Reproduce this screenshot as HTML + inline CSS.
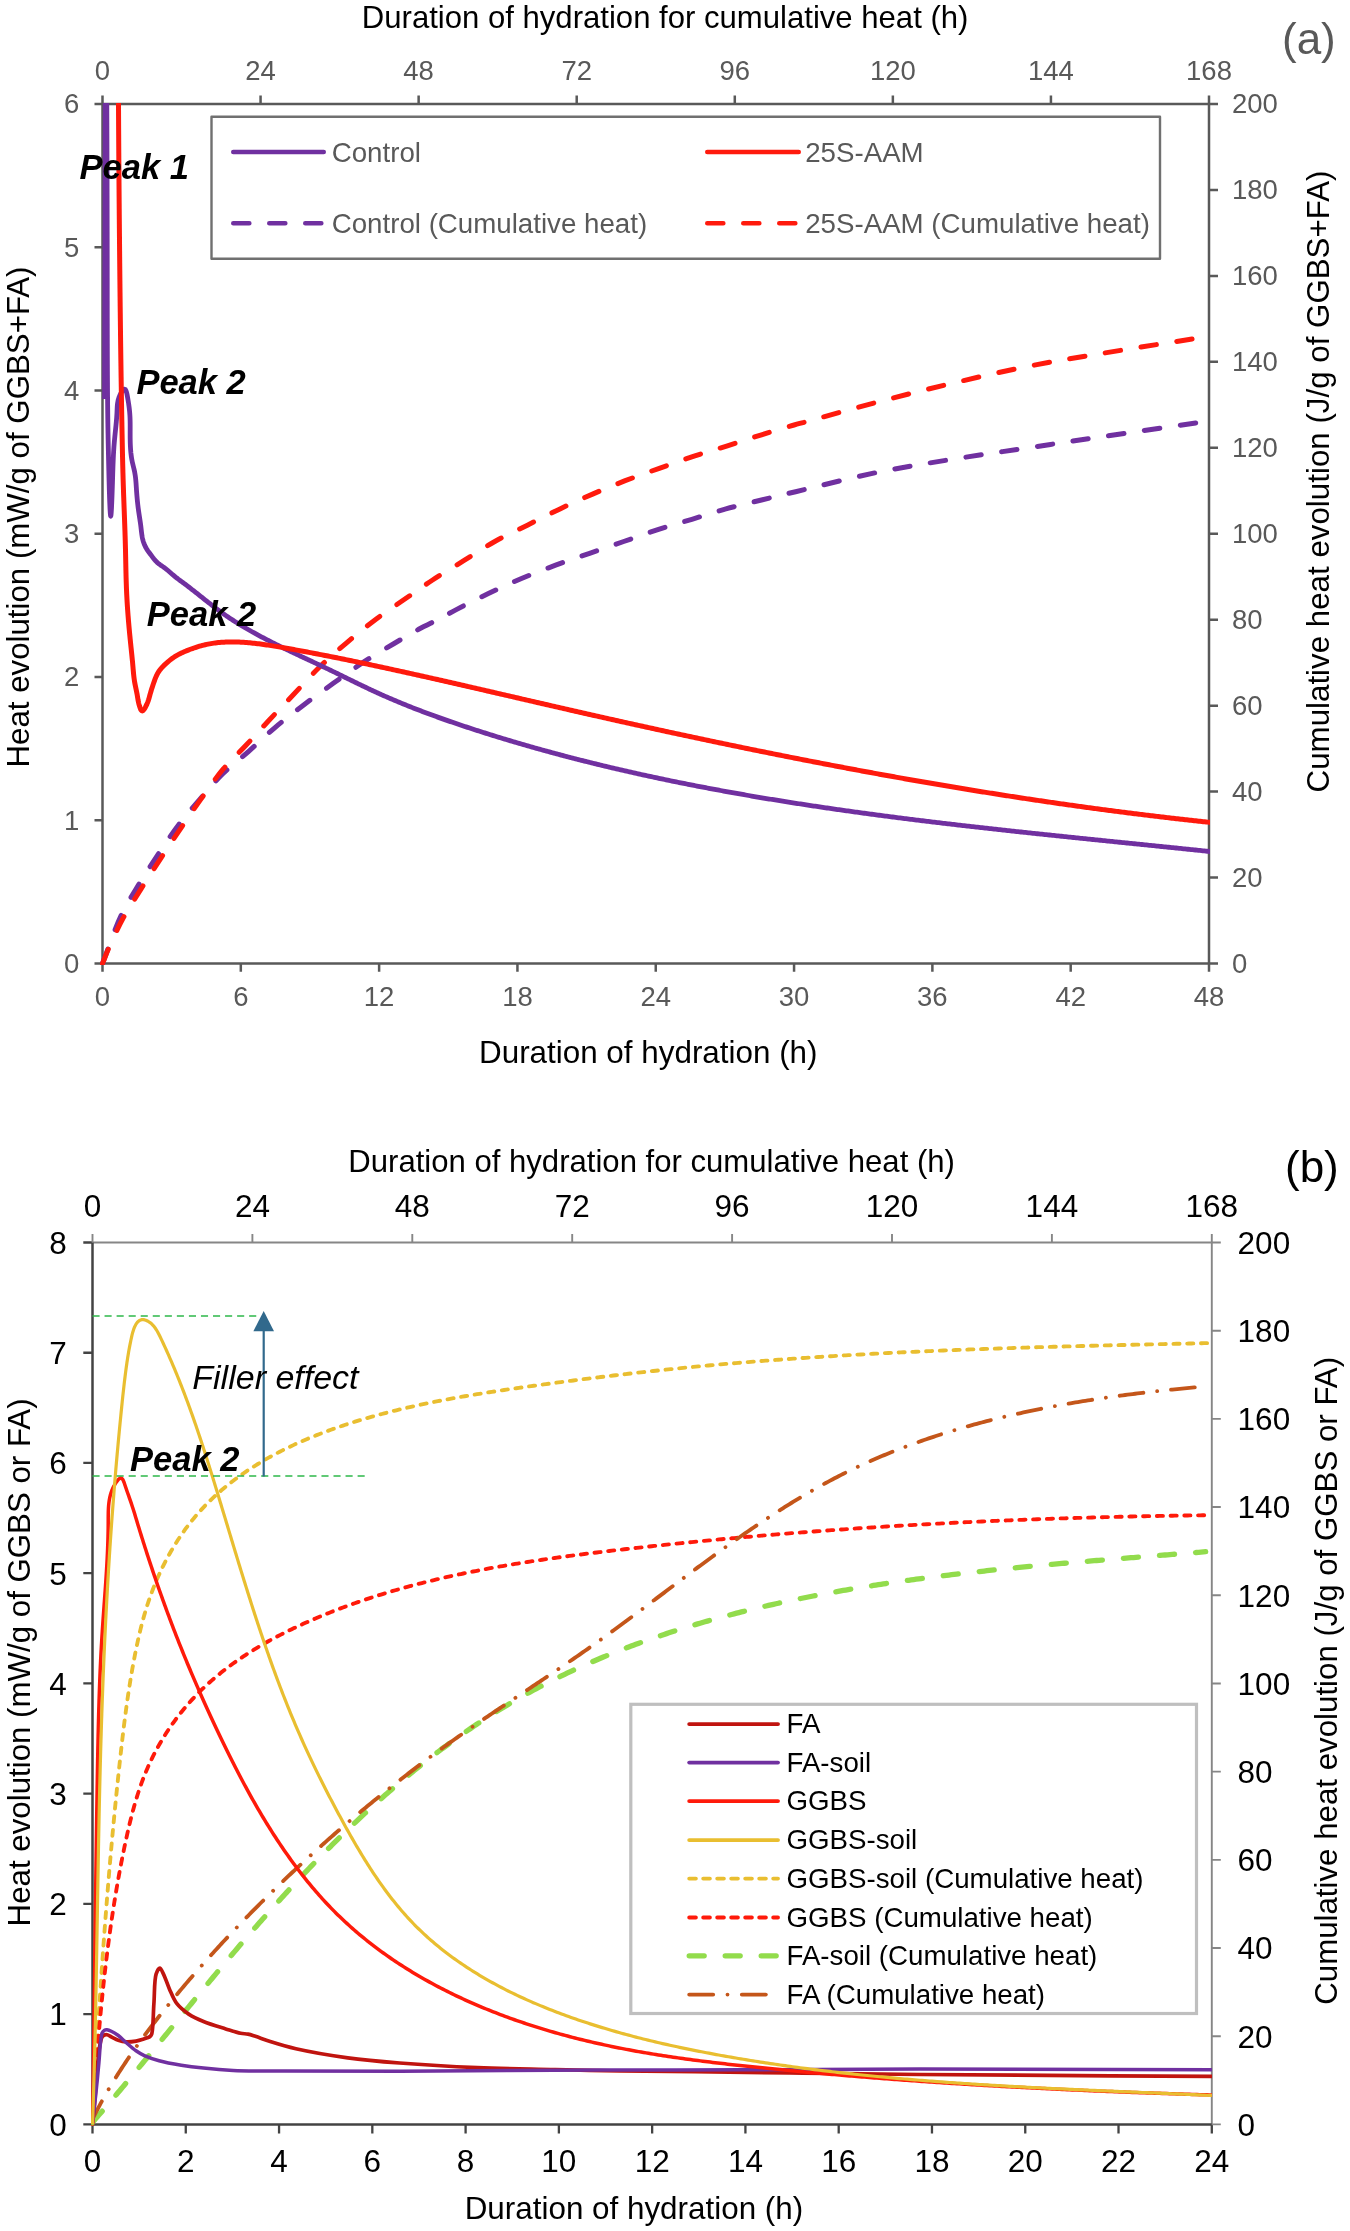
<!DOCTYPE html>
<html><head><meta charset="utf-8"><title>Heat evolution</title>
<style>
html,body{margin:0;padding:0;background:#fff;}
svg{display:block;will-change:transform;}
text{font-family:'Liberation Sans',sans-serif;}
</style></head><body>
<svg width="1350" height="2231" viewBox="0 0 1350 2231">
<rect width="1350" height="2231" fill="#fff"/>
<defs>
<clipPath id="ca"><rect x="100" y="103" width="1110" height="862"/></clipPath>
<clipPath id="cb"><rect x="91" y="1241" width="1122" height="885"/></clipPath>
</defs>

<g stroke="#595959" stroke-width="2.5" fill="none">
<path d="M102.5,104.0 H1209.0 M102.5,963.5 H1209.0 M102.5,104.0 V963.5 M1209.0,104.0 V963.5"/>
<path d="M94.5,963.5 H102.5 M94.5,820.25 H102.5 M94.5,677 H102.5 M94.5,533.75 H102.5 M94.5,390.5 H102.5 M94.5,247.25 H102.5 M94.5,104 H102.5 M1209.0,963.5 H1218 M1209.0,877.55 H1218 M1209.0,791.6 H1218 M1209.0,705.65 H1218 M1209.0,619.7 H1218 M1209.0,533.75 H1218 M1209.0,447.8 H1218 M1209.0,361.85 H1218 M1209.0,275.9 H1218 M1209.0,189.95 H1218 M1209.0,104 H1218 M102.5,963.5 V971.8 M240.81,963.5 V971.8 M379.12,963.5 V971.8 M517.44,963.5 V971.8 M655.75,963.5 V971.8 M794.06,963.5 V971.8 M932.38,963.5 V971.8 M1070.69,963.5 V971.8 M1209,963.5 V971.8 M102.5,104.0 V95.5 M260.57,104.0 V95.5 M418.64,104.0 V95.5 M576.71,104.0 V95.5 M734.79,104.0 V95.5 M892.86,104.0 V95.5 M1050.93,104.0 V95.5 M1209,104.0 V95.5"/>
</g>
<g fill="#595959" font-size="27.5">
<text x="79.2" y="972.8" text-anchor="end">0</text>
<text x="79.2" y="829.55" text-anchor="end">1</text>
<text x="79.2" y="686.3" text-anchor="end">2</text>
<text x="79.2" y="543.05" text-anchor="end">3</text>
<text x="79.2" y="399.8" text-anchor="end">4</text>
<text x="79.2" y="256.55" text-anchor="end">5</text>
<text x="79.2" y="113.3" text-anchor="end">6</text>
<text x="1232" y="972.8">0</text>
<text x="1232" y="886.85">20</text>
<text x="1232" y="800.9">40</text>
<text x="1232" y="714.95">60</text>
<text x="1232" y="629">80</text>
<text x="1232" y="543.05">100</text>
<text x="1232" y="457.1">120</text>
<text x="1232" y="371.15">140</text>
<text x="1232" y="285.2">160</text>
<text x="1232" y="199.25">180</text>
<text x="1232" y="113.3">200</text>
<text x="102.5" y="1006" text-anchor="middle">0</text>
<text x="240.81" y="1006" text-anchor="middle">6</text>
<text x="379.12" y="1006" text-anchor="middle">12</text>
<text x="517.44" y="1006" text-anchor="middle">18</text>
<text x="655.75" y="1006" text-anchor="middle">24</text>
<text x="794.06" y="1006" text-anchor="middle">30</text>
<text x="932.38" y="1006" text-anchor="middle">36</text>
<text x="1070.69" y="1006" text-anchor="middle">42</text>
<text x="1209" y="1006" text-anchor="middle">48</text>
<text x="102.5" y="79.6" text-anchor="middle">0</text>
<text x="260.57" y="79.6" text-anchor="middle">24</text>
<text x="418.64" y="79.6" text-anchor="middle">48</text>
<text x="576.71" y="79.6" text-anchor="middle">72</text>
<text x="734.79" y="79.6" text-anchor="middle">96</text>
<text x="892.86" y="79.6" text-anchor="middle">120</text>
<text x="1050.93" y="79.6" text-anchor="middle">144</text>
<text x="1209" y="79.6" text-anchor="middle">168</text>
</g>
<text x="361.8" y="28.1" font-size="31.1" fill="#000">Duration of hydration for cumulative heat (h)</text>
<text x="479" y="1062.5" font-size="31.4" fill="#000">Duration of hydration (h)</text>
<text transform="translate(28.9,517) rotate(-90)" font-size="31.25" fill="#000" text-anchor="middle">Heat evolution (mW/g of GGBS+FA)</text>
<text transform="translate(1328.6,481.5) rotate(-90)" font-size="31.3" fill="#000" text-anchor="middle">Cumulative heat evolution (J/g of GGBS+FA)</text>
<text x="1282" y="54" font-size="44" fill="#595959">(a)</text>
<rect x="211.5" y="116.7" width="948.5" height="142" fill="#fff" stroke="#707070" stroke-width="2.4" stroke-linejoin="round"/>
<g stroke-width="4.6" stroke-linecap="round" fill="none">
<path d="M233.3,152 H323.7" stroke="#7030A0"/>
<path d="M233.3,223.3 H323.7" stroke="#7030A0" stroke-dasharray="16 20"/>
<path d="M707.3,152 H798.7" stroke="#FF1A0D"/>
<path d="M707.3,223.3 H798.7" stroke="#FF1A0D" stroke-dasharray="16 20"/>
</g>
<g fill="#595959" font-size="27.7">
<text x="331.7" y="161.8">Control</text>
<text x="331.7" y="233">Control (Cumulative heat)</text>
<text x="805.2" y="161.8">25S-AAM</text>
<text x="805.2" y="233">25S-AAM (Cumulative heat)</text>
</g>
<g clip-path="url(#ca)" fill="none" stroke-linejoin="round">
<path d="M102.5,963.5 C108.7,947.53 114.41,929.65 121.1,915.6 C126.69,903.86 132.65,894.71 138.9,884.4 C145.24,873.94 152.15,863.42 158.9,853.3 C165.48,843.43 171.84,833.68 178.9,824.4 C185.91,815.19 193.61,806.41 201.1,797.8 C208.42,789.39 215.4,781.02 223.3,773.3 C231.26,765.51 240.17,758.84 248.7,751.3 C257.5,743.52 266.13,735.03 275.3,727.3 C284.56,719.49 294.32,712.05 304,704.7 C313.65,697.38 323.49,690.32 333.3,683.3 C343.06,676.32 352.7,669.25 362.7,662.7 C372.7,656.15 383.54,649.8 393.3,644 C402.13,638.75 410.55,633.72 418.7,629.3 C426.06,625.31 433.4,621.97 440,618.5 C445.82,615.44 449.9,612.95 456.3,609.6 C465.27,604.91 477.98,598.5 488.9,593.3 C499.72,588.14 510.45,583.16 521.5,578.5 C532.68,573.79 544.2,569.42 555.6,565.2 C566.9,561.02 578.25,557.25 589.6,553.3 C600.95,549.35 612.34,545.45 623.7,541.5 C635.07,537.55 646.39,533.31 657.8,529.6 C669.13,525.91 680.54,522.75 691.9,519.3 C703.24,515.85 714.39,512.1 725.9,508.9 C737.59,505.65 749.76,502.9 761.5,500 C772.98,497.17 781.76,495.02 795.6,491.7 C817.12,486.54 851.26,477.7 878.1,472.2 C903.38,467.02 927.48,463.32 952.2,459.3 C976.88,455.29 1001.6,451.82 1026.3,448.1 C1051,444.38 1073.34,441.02 1100.4,437 C1133.15,432.13 1172.8,426.33 1209,421" stroke="#7030A0" stroke-width="5" stroke-dasharray="15.5 20.6" stroke-linecap="round"/>
<path d="M102.5,963.5 C104.63,958.27 106.23,953.83 108.9,947.8 C112.64,939.36 117.97,927.57 123.3,917.8 C128.69,907.93 134.94,898.68 141.1,888.9 C147.52,878.69 154.39,868.05 161.1,857.8 C167.73,847.68 174.39,837.68 181.1,827.8 C187.72,818.05 194.18,808.57 201.1,798.9 C208.23,788.94 215.55,778.07 223.3,768.9 C230.56,760.31 238.43,753.35 246,745.3 C253.76,737.05 261.39,728.46 269.3,720 C277.38,711.36 285.72,702.73 294,694 C302.39,685.16 310.58,675.8 319.3,667.3 C327.92,658.91 336.89,651.06 346,643.3 C355.12,635.53 364.02,628.21 374,620.7 C384.86,612.53 398.38,603.6 408.9,596.3 C417.55,590.3 424.09,585.56 432.6,580 C442.2,573.73 453.33,567.12 463.7,560.7 C474.06,554.29 484.18,547.42 494.8,541.5 C505.41,535.59 516.53,530.63 527.4,525.2 C538.27,519.77 549.08,514.1 560,508.9 C570.82,503.74 581.69,498.82 592.6,494.1 C603.42,489.42 614.17,484.97 625.2,480.7 C636.39,476.37 647.93,472.36 659.3,468.3 C670.63,464.26 681.93,460.16 693.3,456.4 C704.63,452.66 716.04,449.4 727.4,445.8 C738.78,442.2 750.24,438.31 761.5,434.8 C772.47,431.38 786.37,427.22 794.1,425 C798.35,423.78 799.17,423.62 804,422.3 C817.22,418.68 853.36,408.41 878.1,401.9 C902.76,395.41 927.46,389.17 952.2,383.3 C976.86,377.44 1001.54,371.64 1026.3,366.7 C1050.94,361.78 1074.31,358.07 1100.4,353.7 C1129.53,348.82 1174.87,341.71 1193,338.9 C1200.53,337.73 1203.67,337.3 1209,336.5" stroke="#FF1A0D" stroke-width="5" stroke-dasharray="15.5 20.6" stroke-linecap="round"/>
<path d="M104.6,399 C104.73,349.33 104.89,302.68 105,250 C105.13,190.51 105.2,123.33 105.3,60" stroke="#7030A0" stroke-width="4.8"/>
<path d="M106.6,60 L106.61,61.52 L106.61,63.03 L106.62,64.54 L106.63,66.05 L106.64,67.56 L106.64,69.07 L106.65,70.58 L106.66,72.09 L106.66,73.6 L106.67,75.1 L106.68,76.6 L106.69,78.11 L106.69,79.61 L106.7,81.11 L106.71,82.61 L106.71,84.11 L106.72,85.61 L106.73,87.11 L106.73,88.6 L106.74,90.1 L106.75,91.59 L106.75,93.09 L106.76,94.58 L106.77,96.07 L106.77,97.57 L106.78,99.06 L106.79,100.55 L106.79,102.04 L106.8,103.53 L106.8,105.02 L106.81,106.5 L106.82,107.99 L106.82,109.48 L106.83,110.97 L106.83,112.45 L106.84,113.94 L106.85,115.43 L106.85,116.91 L106.86,118.4 L106.86,119.88 L106.87,121.37 L106.88,122.85 L106.88,124.33 L106.89,125.82 L106.89,127.3 L106.9,128.78 L106.9,130.27 L106.91,131.75 L106.92,133.23 L106.92,134.72 L106.93,136.2 L106.93,137.68 L106.94,139.16 L106.94,140.65 L106.95,142.13 L106.95,143.61 L106.96,145.1 L106.96,146.58 L106.97,148.06 L106.97,149.55 L106.98,151.03 L106.98,152.51 L106.99,154 L106.99,155.48 L107,156.97 L107,158.45 L107.01,159.94 L107.01,161.42 L107.02,162.91 L107.02,164.4 L107.02,165.88 L107.03,167.37 L107.03,168.86 L107.04,170.35 L107.04,171.84 L107.05,173.33 L107.05,174.82 L107.05,176.31 L107.06,177.8 L107.06,179.29 L107.07,180.78 L107.07,182.28 L107.08,183.77 L107.08,185.27 L107.08,186.76 L107.09,188.26 L107.09,189.76 L107.09,191.26 L107.1,192.75 L107.1,194.25 L107.11,195.76 L107.11,197.26 L107.11,198.76 L107.12,200.26 L107.12,201.77 L107.12,203.28 L107.13,204.78 L107.13,206.29 L107.13,207.8 L107.14,209.31 L107.14,210.82 L107.14,212.34 L107.14,213.85 L107.15,215.37 L107.15,216.88 L107.15,218.4 L107.16,219.92 L107.16,221.44 L107.16,222.96 L107.16,224.49 L107.17,226.01 L107.17,227.54 L107.17,229.07 L107.17,230.59 L107.18,232.13 L107.18,233.66 L107.18,235.19 L107.18,236.73 L107.19,238.26 L107.19,239.8 L107.19,241.34 L107.19,242.89 L107.19,244.43 L107.2,245.98 L107.2,247.52 L107.2,249.07 L107.2,250.62 L107.2,252.18 L107.2,253.73 L107.21,255.29 L107.21,256.85 L107.21,258.4 L107.21,259.97 L107.21,261.53 L107.21,263.09 L107.21,264.65 L107.22,266.22 L107.22,267.79 L107.22,269.35 L107.22,270.92 L107.22,272.49 L107.22,274.06 L107.22,275.63 L107.23,277.2 L107.23,278.77 L107.23,280.34 L107.23,281.91 L107.23,283.48 L107.23,285.05 L107.23,286.62 L107.23,288.19 L107.24,289.76 L107.24,291.33 L107.24,292.9 L107.24,294.47 L107.24,296.04 L107.24,297.61 L107.24,299.18 L107.25,300.74 L107.25,302.31 L107.25,303.87 L107.25,305.44 L107.25,307 L107.25,308.56 L107.26,310.12 L107.26,311.68 L107.26,313.23 L107.26,314.79 L107.26,316.34 L107.27,317.89 L107.27,319.44 L107.27,320.99 L107.27,322.54 L107.28,324.08 L107.28,325.62 L107.28,327.16 L107.28,328.7 L107.29,330.23 L107.29,331.76 L107.29,333.29 L107.3,334.82 L107.3,336.34 L107.3,337.86 L107.31,339.38 L107.31,340.89 L107.31,342.4 L107.32,343.91 L107.32,345.42 L107.33,346.92 L107.33,348.41 L107.33,349.91 L107.34,351.4 L107.34,352.89 L107.35,354.37 L107.35,355.85 L107.36,357.32 L107.36,358.79 L107.37,360.26 L107.37,361.72 L107.38,363.18 L107.39,364.64 L107.39,366.08 L107.4,367.53 L107.4,368.97 L107.41,370.4 L107.42,371.83 L107.42,373.26 L107.43,374.68 L107.44,376.1 L107.45,377.51 L107.45,378.91 L107.46,380.31 L107.47,381.7 L107.48,383.09 L107.49,384.47 L107.5,385.85 L107.5,387.22 L107.51,388.59 L107.52,389.95 L107.53,391.3 L107.54,392.65 L107.55,393.99 L107.56,395.32 L107.57,396.65 L107.58,397.97 L107.59,399.29 L107.61,400.6 L107.62,401.9 L107.63,403.2 L107.64,404.49 L107.65,405.78 L107.67,407.07 L107.68,408.35 L107.69,409.64 L107.71,410.92 L107.72,412.21 L107.73,413.5 L107.75,414.79 L107.77,416.09 L107.78,417.39 L107.8,418.7 L107.82,420.01 L107.83,421.34 L107.85,422.67 L107.87,424.01 L107.89,425.37 L107.91,426.73 L107.94,428.11 L107.96,429.5 L107.98,430.91 L108,432.34 L108.03,433.78 L108.06,435.23 L108.08,436.71 L108.11,438.21 L108.14,439.73 L108.17,441.26 L108.2,442.83 L108.23,444.41 L108.26,446.02 L108.3,447.66 L108.33,449.32 L108.37,451.01 L108.4,452.72 L108.44,454.47 L108.48,456.25 L108.52,458.05 L108.56,459.89 L108.61,461.77 L108.65,463.67 L108.7,465.62 L108.74,467.6 L108.79,469.61 L108.84,471.66 L108.89,473.75 L108.94,475.86 L109,477.99 L109.05,480.12 L109.11,482.27 L109.17,484.41 L109.22,486.53 L109.28,488.64 L109.34,490.73 L109.41,492.78 L109.47,494.79 L109.53,496.76 L109.6,498.67 L109.66,500.52 L109.73,502.31 L109.8,504.02 L109.87,505.64 L109.93,507.18 L110,508.61 L110.07,509.95 L110.15,511.17 L110.22,512.27 L110.29,513.25 L110.36,514.1 L110.44,514.8 L110.51,515.36 L110.58,515.76 L110.66,516.01 L110.73,516.08 L110.81,515.98 L110.89,515.69 L110.96,515.24 L111.04,514.62 L111.11,513.85 L111.19,512.94 L111.27,511.89 L111.34,510.71 L111.42,509.42 L111.49,508.01 L111.57,506.51 L111.64,504.93 L111.72,503.26 L111.79,501.51 L111.86,499.71 L111.93,497.86 L112.01,495.96 L112.08,494.02 L112.14,492.06 L112.21,490.09 L112.28,488.1 L112.34,486.12 L112.41,484.15 L112.47,482.2 L112.53,480.28 L112.59,478.4 L112.64,476.57 L112.7,474.78 L112.75,473.04 L112.81,471.35 L112.86,469.69 L112.92,468.07 L112.97,466.48 L113.02,464.92 L113.08,463.4 L113.14,461.9 L113.2,460.42 L113.26,458.97 L113.32,457.54 L113.39,456.12 L113.46,454.71 L113.53,453.32 L113.61,451.93 L113.69,450.55 L113.78,449.17 L113.87,447.79 L113.97,446.41 L114.08,445.03 L114.19,443.63 L114.3,442.23 L114.43,440.81 L114.56,439.38 L114.7,437.93 L114.84,436.46 L114.99,434.99 L115.14,433.5 L115.3,432 L115.45,430.49 L115.61,428.98 L115.76,427.47 L115.92,425.95 L116.06,424.43 L116.21,422.91 L116.35,421.39 L116.48,419.88 L116.6,418.37 L116.71,416.88 L116.81,415.39 L116.9,413.91 L116.98,412.45 L117.04,411 L117.1,409.56 L117.16,408.13 L117.24,406.7 L117.35,405.27 L117.51,403.83 L117.73,402.38 L118.02,400.91 L118.38,399.42 L118.85,397.9 L119.42,396.35 L120.11,394.76 L120.93,393.14 L121.86,391.57 L122.84,390.24 L123.79,389.36 L124.65,389.12 L125.38,389.61 L126,390.7 L126.52,392.23 L126.96,394.06 L127.34,396.02 L127.69,397.95 L128.01,399.8 L128.3,401.56 L128.56,403.25 L128.8,404.86 L129.01,406.41 L129.2,407.9 L129.37,409.35 L129.52,410.75 L129.65,412.13 L129.77,413.48 L129.86,414.81 L129.94,416.14 L130.01,417.46 L130.06,418.8 L130.1,420.14 L130.13,421.51 L130.15,422.9 L130.17,424.31 L130.17,425.73 L130.17,427.17 L130.17,428.63 L130.17,430.1 L130.16,431.59 L130.16,433.08 L130.16,434.59 L130.16,436.11 L130.17,437.63 L130.19,439.16 L130.22,440.7 L130.25,442.24 L130.3,443.79 L130.36,445.33 L130.44,446.88 L130.53,448.43 L130.64,449.97 L130.77,451.51 L130.91,453.05 L131.09,454.58 L131.28,456.11 L131.5,457.62 L131.75,459.13 L132.03,460.63 L132.33,462.11 L132.66,463.59 L133.01,465.05 L133.37,466.51 L133.73,467.97 L134.08,469.42 L134.41,470.88 L134.71,472.34 L134.97,473.81 L135.21,475.29 L135.41,476.77 L135.59,478.26 L135.74,479.75 L135.88,481.25 L136,482.75 L136.11,484.25 L136.21,485.75 L136.31,487.25 L136.41,488.76 L136.5,490.26 L136.61,491.76 L136.72,493.26 L136.84,494.76 L136.96,496.26 L137.09,497.76 L137.23,499.25 L137.37,500.75 L137.53,502.24 L137.69,503.73 L137.86,505.22 L138.04,506.71 L138.22,508.2 L138.42,509.68 L138.62,511.17 L138.84,512.65 L139.06,514.13 L139.29,515.61 L139.52,517.1 L139.75,518.58 L139.97,520.06 L140.2,521.55 L140.41,523.03 L140.61,524.52 L140.8,526.01 L140.98,527.51 L141.15,529 L141.31,530.5 L141.49,531.99 L141.68,533.49 L141.89,534.97 L142.13,536.45 L142.41,537.93 L142.74,539.39 L143.12,540.84 L143.56,542.28 L144.06,543.7 L144.63,545.1 L145.26,546.46 L145.97,547.78 L146.74,549.06 L147.57,550.31 L148.43,551.53 L149.33,552.75 L150.23,553.95 L151.13,555.17 L152.02,556.39 L152.92,557.6 L153.84,558.8 L154.79,559.96 L155.79,561.07 L156.84,562.11 L157.96,563.09 L159.14,564.02 L160.35,564.91 L161.58,565.77 L162.83,566.62 L164.07,567.49 L165.28,568.37 L166.47,569.29 L167.64,570.24 L168.78,571.22 L169.91,572.2 L171.04,573.2 L172.16,574.19 L173.3,575.17 L174.44,576.14 L175.6,577.09 L176.78,578.01 L177.97,578.93 L179.18,579.82 L180.38,580.72 L181.6,581.6 L182.81,582.49 L184.01,583.39 L185.22,584.28 L186.42,585.19 L187.61,586.1 L188.8,587.01 L189.99,587.92 L191.18,588.84 L192.36,589.77 L193.54,590.69 L194.72,591.62 L195.9,592.55 L197.07,593.48 L198.25,594.41 L199.42,595.35 L200.6,596.28 L201.77,597.21 L202.94,598.15 L204.12,599.08 L205.29,600.01 L206.47,600.95 L207.64,601.87 L208.82,602.8 L210,603.73 L211.19,604.65 L212.37,605.57 L213.56,606.48 L214.75,607.39 L215.94,608.3 L217.14,609.2 L218.34,610.1 L219.55,610.99 L220.76,611.87 L221.97,612.75 L223.19,613.63 L224.42,614.49 L225.65,615.35 L226.89,616.2 L228.13,617.05 L229.38,617.89 L230.63,618.72 L231.88,619.55 L233.14,620.37 L234.41,621.18 L235.67,621.99 L236.95,622.79 L238.22,623.58 L239.5,624.37 L240.79,625.16 L242.08,625.94 L243.37,626.71 L244.66,627.48 L245.96,628.24 L247.26,629 L248.56,629.75 L249.87,630.5 L251.18,631.24 L252.49,631.98 L253.8,632.71 L255.12,633.44 L256.44,634.16 L257.76,634.88 L259.08,635.59 L260.41,636.31 L261.73,637.01 L263.06,637.71 L264.39,638.41 L265.72,639.11 L267.05,639.8 L268.38,640.48 L269.72,641.17 L271.05,641.85 L272.39,642.53 L273.73,643.2 L275.07,643.87 L276.41,644.54 L277.75,645.21 L279.1,645.87 L280.44,646.53 L281.79,647.19 L283.13,647.84 L284.48,648.5 L285.83,649.15 L287.17,649.8 L288.52,650.44 L289.87,651.09 L291.22,651.74 L292.58,652.38 L293.93,653.02 L295.28,653.66 L296.63,654.3 L297.99,654.94 L299.34,655.57 L300.69,656.21 L302.05,656.85 L303.4,657.48 L304.76,658.12 L306.11,658.75 L307.47,659.39 L308.82,660.02 L310.18,660.66 L311.53,661.29 L312.89,661.92 L314.24,662.56 L315.6,663.2 L316.95,663.83 L318.31,664.47 L319.66,665.11 L321.02,665.75 L322.37,666.39 L323.72,667.03 L325.07,667.67 L326.43,668.31 L327.78,668.96 L329.13,669.61 L330.48,670.26 L331.83,670.91 L333.18,671.56 L334.53,672.21 L335.87,672.87 L337.22,673.52 L338.57,674.18 L339.92,674.84 L341.26,675.49 L342.61,676.15 L343.96,676.81 L345.31,677.47 L346.65,678.13 L348,678.79 L349.35,679.45 L350.7,680.11 L352.04,680.76 L353.39,681.42 L354.74,682.08 L356.09,682.73 L357.44,683.39 L358.79,684.04 L360.14,684.7 L361.49,685.35 L362.85,686 L364.2,686.64 L365.56,687.29 L366.91,687.94 L368.27,688.58 L369.62,689.22 L370.98,689.85 L372.34,690.49 L373.7,691.12 L375.07,691.75 L376.43,692.38 L377.8,693 L379.16,693.62 L380.53,694.24 L381.9,694.85 L383.27,695.46 L384.64,696.07 L386.02,696.67 L387.39,697.27 L388.77,697.87 L390.15,698.47 L391.53,699.06 L392.91,699.65 L394.29,700.24 L395.67,700.82 L397.06,701.4 L398.44,701.98 L399.83,702.55 L401.22,703.13 L402.61,703.7 L404,704.26 L405.39,704.83 L406.78,705.39 L408.18,705.95 L409.57,706.5 L410.97,707.06 L412.37,707.61 L413.76,708.16 L415.16,708.7 L416.56,709.25 L417.97,709.79 L419.37,710.33 L420.77,710.86 L422.18,711.4 L423.58,711.93 L424.99,712.46 L426.4,712.98 L427.81,713.51 L429.21,714.03 L430.62,714.55 L432.04,715.07 L433.45,715.58 L434.86,716.1 L436.27,716.61 L437.69,717.12 L439.1,717.63 L440.52,718.13 L441.94,718.63 L443.35,719.13 L444.77,719.63 L446.19,720.13 L447.61,720.63 L449.03,721.12 L450.45,721.61 L451.87,722.1 L453.29,722.59 L454.72,723.07 L456.14,723.56 L457.56,724.04 L458.99,724.52 L460.41,725 L461.84,725.48 L463.26,725.95 L464.69,726.43 L466.12,726.9 L467.55,727.37 L468.97,727.84 L470.4,728.31 L471.83,728.77 L473.26,729.24 L474.69,729.7 L476.12,730.16 L477.55,730.62 L478.98,731.08 L480.41,731.54 L481.84,732 L483.27,732.45 L484.7,732.9 L486.14,733.36 L487.57,733.81 L489,734.26 L490.44,734.71 L491.87,735.15 L493.3,735.6 L494.74,736.04 L496.17,736.48 L497.61,736.93 L499.04,737.37 L500.48,737.8 L501.91,738.24 L503.35,738.68 L504.79,739.11 L506.22,739.55 L507.66,739.98 L509.1,740.41 L510.54,740.84 L511.97,741.27 L513.41,741.69 L514.85,742.12 L516.29,742.54 L517.73,742.97 L519.17,743.39 L520.61,743.81 L522.05,744.23 L523.49,744.64 L524.93,745.06 L526.37,745.48 L527.82,745.89 L529.26,746.3 L530.7,746.71 L532.14,747.12 L533.59,747.53 L535.03,747.94 L536.47,748.35 L537.92,748.75 L539.36,749.15 L540.81,749.56 L542.25,749.96 L543.7,750.36 L545.14,750.76 L546.59,751.15 L548.03,751.55 L549.48,751.94 L550.93,752.34 L552.37,752.73 L553.82,753.12 L555.27,753.51 L556.72,753.9 L558.16,754.29 L559.61,754.68 L561.06,755.06 L562.51,755.44 L563.96,755.83 L565.41,756.21 L566.86,756.59 L568.31,756.97 L569.76,757.35 L571.21,757.72 L572.66,758.1 L574.11,758.47 L575.57,758.85 L577.02,759.22 L578.47,759.59 L579.92,759.96 L581.37,760.33 L582.83,760.7 L584.28,761.06 L585.73,761.43 L587.19,761.79 L588.64,762.15 L590.1,762.52 L591.55,762.88 L593.01,763.24 L594.46,763.59 L595.92,763.95 L597.37,764.31 L598.83,764.66 L600.29,765.02 L601.74,765.37 L603.2,765.72 L604.66,766.07 L606.11,766.42 L607.57,766.77 L609.03,767.11 L610.49,767.46 L611.95,767.81 L613.4,768.15 L614.86,768.49 L616.32,768.83 L617.78,769.17 L619.24,769.51 L620.7,769.85 L622.16,770.19 L623.62,770.53 L625.08,770.86 L626.54,771.19 L628.01,771.53 L629.47,771.86 L630.93,772.19 L632.39,772.52 L633.85,772.85 L635.32,773.18 L636.78,773.5 L638.24,773.83 L639.7,774.15 L641.17,774.48 L642.63,774.8 L644.09,775.12 L645.56,775.44 L647.02,775.76 L648.49,776.08 L649.95,776.4 L651.42,776.71 L652.88,777.03 L654.35,777.34 L655.81,777.66 L657.28,777.97 L658.75,778.28 L660.21,778.59 L661.68,778.9 L663.15,779.21 L664.61,779.51 L666.08,779.82 L667.55,780.13 L669.02,780.43 L670.48,780.73 L671.95,781.04 L673.42,781.34 L674.89,781.64 L676.36,781.94 L677.83,782.24 L679.3,782.53 L680.77,782.83 L682.24,783.13 L683.71,783.42 L685.18,783.72 L686.65,784.01 L688.12,784.3 L689.59,784.59 L691.06,784.88 L692.53,785.17 L694,785.46 L695.47,785.75 L696.95,786.03 L698.42,786.32 L699.89,786.6 L701.36,786.89 L702.84,787.17 L704.31,787.45 L705.78,787.73 L707.25,788.01 L708.73,788.29 L710.2,788.57 L711.68,788.85 L713.15,789.12 L714.62,789.4 L716.1,789.67 L717.57,789.95 L719.05,790.22 L720.52,790.49 L722,790.76 L723.47,791.03 L724.95,791.3 L726.42,791.57 L727.9,791.84 L729.38,792.11 L730.85,792.37 L732.33,792.64 L733.81,792.9 L735.28,793.17 L736.76,793.43 L738.24,793.69 L739.71,793.95 L741.19,794.21 L742.67,794.47 L744.15,794.73 L745.63,794.99 L747.1,795.25 L748.58,795.5 L750.06,795.76 L751.54,796.01 L753.02,796.27 L754.5,796.52 L755.98,796.77 L757.46,797.02 L758.94,797.27 L760.42,797.52 L761.9,797.77 L763.38,798.02 L764.86,798.27 L766.34,798.51 L767.82,798.76 L769.3,799.01 L770.78,799.25 L772.26,799.49 L773.74,799.74 L775.22,799.98 L776.7,800.22 L778.18,800.46 L779.67,800.7 L781.15,800.94 L782.63,801.18 L784.11,801.42 L785.59,801.65 L787.08,801.89 L788.56,802.12 L790.04,802.36 L791.53,802.59 L793.01,802.83 L794.49,803.06 L795.98,803.29 L797.46,803.52 L798.94,803.75 L800.43,803.98 L801.91,804.21 L803.39,804.44 L804.88,804.67 L806.36,804.9 L807.85,805.12 L809.33,805.35 L810.82,805.57 L812.3,805.8 L813.79,806.02 L815.27,806.24 L816.76,806.47 L818.24,806.69 L819.73,806.91 L821.21,807.13 L822.7,807.35 L824.18,807.57 L825.67,807.79 L827.16,808 L828.64,808.22 L830.13,808.44 L831.62,808.65 L833.1,808.87 L834.59,809.08 L836.08,809.3 L837.56,809.51 L839.05,809.72 L840.54,809.94 L842.02,810.15 L843.51,810.36 L845,810.57 L846.49,810.78 L847.97,810.99 L849.46,811.2 L850.95,811.4 L852.44,811.61 L853.93,811.82 L855.41,812.02 L856.9,812.23 L858.39,812.43 L859.88,812.64 L861.37,812.84 L862.86,813.05 L864.35,813.25 L865.83,813.45 L867.32,813.65 L868.81,813.85 L870.3,814.05 L871.79,814.25 L873.28,814.45 L874.77,814.65 L876.26,814.85 L877.75,815.05 L879.24,815.25 L880.73,815.44 L882.22,815.64 L883.71,815.83 L885.2,816.03 L886.69,816.22 L888.18,816.42 L889.67,816.61 L891.16,816.8 L892.65,817 L894.14,817.19 L895.63,817.38 L897.12,817.57 L898.61,817.76 L900.1,817.95 L901.59,818.14 L903.08,818.33 L904.58,818.52 L906.07,818.71 L907.56,818.89 L909.05,819.08 L910.54,819.27 L912.03,819.45 L913.52,819.64 L915.01,819.83 L916.51,820.01 L918,820.2 L919.49,820.38 L920.98,820.56 L922.47,820.75 L923.96,820.93 L925.46,821.11 L926.95,821.29 L928.44,821.47 L929.93,821.65 L931.42,821.83 L932.92,822.02 L934.41,822.19 L935.9,822.37 L937.39,822.55 L938.89,822.73 L940.38,822.91 L941.87,823.09 L943.36,823.26 L944.86,823.44 L946.35,823.62 L947.84,823.79 L949.33,823.97 L950.83,824.14 L952.32,824.32 L953.81,824.49 L955.3,824.67 L956.8,824.84 L958.29,825.01 L959.78,825.19 L961.28,825.36 L962.77,825.53 L964.26,825.7 L965.76,825.88 L967.25,826.05 L968.74,826.22 L970.23,826.39 L971.73,826.56 L973.22,826.73 L974.71,826.9 L976.21,827.07 L977.7,827.24 L979.19,827.4 L980.69,827.57 L982.18,827.74 L983.67,827.91 L985.17,828.07 L986.66,828.24 L988.15,828.41 L989.65,828.57 L991.14,828.74 L992.63,828.91 L994.13,829.07 L995.62,829.24 L997.12,829.4 L998.61,829.57 L1000.1,829.73 L1001.6,829.89 L1003.09,830.06 L1004.58,830.22 L1006.08,830.38 L1007.57,830.55 L1009.06,830.71 L1010.56,830.87 L1012.05,831.03 L1013.54,831.2 L1015.04,831.36 L1016.53,831.52 L1018.03,831.68 L1019.52,831.84 L1021.01,832 L1022.51,832.16 L1024,832.32 L1025.49,832.48 L1026.99,832.64 L1028.48,832.8 L1029.97,832.96 L1031.47,833.12 L1032.96,833.28 L1034.45,833.44 L1035.95,833.6 L1037.44,833.75 L1038.93,833.91 L1040.43,834.07 L1041.92,834.23 L1043.41,834.39 L1044.91,834.54 L1046.4,834.7 L1047.89,834.86 L1049.39,835.01 L1050.88,835.17 L1052.37,835.33 L1053.87,835.48 L1055.36,835.64 L1056.85,835.8 L1058.35,835.95 L1059.84,836.11 L1061.33,836.26 L1062.83,836.42 L1064.32,836.57 L1065.81,836.73 L1067.3,836.88 L1068.8,837.04 L1070.29,837.19 L1071.78,837.35 L1073.28,837.5 L1074.77,837.65 L1076.26,837.81 L1077.75,837.96 L1079.25,838.12 L1080.74,838.27 L1082.23,838.42 L1083.72,838.58 L1085.22,838.73 L1086.71,838.88 L1088.2,839.04 L1089.69,839.19 L1091.19,839.34 L1092.68,839.5 L1094.17,839.65 L1095.66,839.8 L1097.16,839.95 L1098.65,840.11 L1100.14,840.26 L1101.63,840.41 L1103.12,840.56 L1104.61,840.72 L1106.11,840.87 L1107.6,841.02 L1109.09,841.17 L1110.58,841.32 L1112.07,841.48 L1113.56,841.63 L1115.06,841.78 L1116.55,841.93 L1118.04,842.08 L1119.53,842.24 L1121.02,842.39 L1122.51,842.54 L1124,842.69 L1125.49,842.84 L1126.98,843 L1128.47,843.15 L1129.97,843.3 L1131.46,843.45 L1132.95,843.6 L1134.44,843.75 L1135.93,843.91 L1137.42,844.06 L1138.91,844.21 L1140.4,844.36 L1141.89,844.51 L1143.38,844.66 L1144.87,844.82 L1146.36,844.97 L1147.85,845.12 L1149.34,845.27 L1150.83,845.42 L1152.32,845.58 L1153.8,845.73 L1155.29,845.88 L1156.78,846.03 L1158.27,846.18 L1159.76,846.34 L1161.25,846.49 L1162.74,846.64 L1164.23,846.79 L1165.72,846.95 L1167.2,847.1 L1168.69,847.25 L1170.18,847.4 L1171.67,847.56 L1173.16,847.71 L1174.65,847.86 L1176.13,848.01 L1177.62,848.17 L1179.11,848.32 L1180.6,848.47 L1182.08,848.63 L1183.57,848.78 L1185.06,848.93 L1186.55,849.09 L1188.03,849.24 L1189.52,849.4 L1191.01,849.55 L1192.49,849.7 L1193.98,849.86 L1195.47,850.01 L1196.95,850.17 L1198.44,850.32 L1199.92,850.48 L1201.41,850.63 L1202.9,850.79 L1204.38,850.94 L1205.87,851.1 L1207.35,851.25 L1208.84,851.41 L1210.32,851.56" stroke="#7030A0" stroke-width="4.8"/>
<path d="M118.3,60 L118.31,61.5 L118.31,63 L118.32,64.5 L118.32,66 L118.33,67.51 L118.34,69.01 L118.34,70.51 L118.35,72.01 L118.36,73.51 L118.36,75.01 L118.37,76.51 L118.37,78.01 L118.38,79.52 L118.39,81.02 L118.39,82.52 L118.4,84.02 L118.41,85.52 L118.42,87.02 L118.42,88.52 L118.43,90.02 L118.44,91.52 L118.44,93.03 L118.45,94.53 L118.46,96.03 L118.47,97.53 L118.47,99.03 L118.48,100.53 L118.49,102.03 L118.5,103.53 L118.51,105.04 L118.51,106.54 L118.52,108.04 L118.53,109.54 L118.54,111.04 L118.55,112.54 L118.55,114.04 L118.56,115.54 L118.57,117.04 L118.58,118.55 L118.59,120.05 L118.6,121.55 L118.6,123.05 L118.61,124.55 L118.62,126.05 L118.63,127.55 L118.64,129.05 L118.65,130.55 L118.66,132.06 L118.67,133.56 L118.68,135.06 L118.69,136.56 L118.7,138.06 L118.7,139.56 L118.71,141.06 L118.72,142.56 L118.73,144.07 L118.74,145.57 L118.75,147.07 L118.76,148.57 L118.77,150.07 L118.78,151.57 L118.79,153.07 L118.8,154.57 L118.81,156.07 L118.82,157.58 L118.83,159.08 L118.84,160.58 L118.85,162.08 L118.86,163.58 L118.88,165.08 L118.89,166.58 L118.9,168.08 L118.91,169.58 L118.92,171.09 L118.93,172.59 L118.94,174.09 L118.95,175.59 L118.96,177.09 L118.97,178.59 L118.99,180.09 L119,181.59 L119.01,183.1 L119.02,184.6 L119.03,186.1 L119.04,187.6 L119.05,189.1 L119.07,190.6 L119.08,192.1 L119.09,193.6 L119.1,195.1 L119.11,196.61 L119.13,198.11 L119.14,199.61 L119.15,201.11 L119.16,202.61 L119.18,204.11 L119.19,205.61 L119.2,207.11 L119.21,208.61 L119.23,210.12 L119.24,211.62 L119.25,213.12 L119.26,214.62 L119.28,216.12 L119.29,217.62 L119.3,219.12 L119.32,220.62 L119.33,222.12 L119.34,223.63 L119.36,225.13 L119.37,226.63 L119.38,228.13 L119.4,229.63 L119.41,231.13 L119.42,232.63 L119.44,234.13 L119.45,235.63 L119.47,237.14 L119.48,238.64 L119.49,240.14 L119.51,241.64 L119.52,243.14 L119.54,244.64 L119.55,246.14 L119.57,247.64 L119.58,249.14 L119.59,250.65 L119.61,252.15 L119.62,253.65 L119.64,255.15 L119.65,256.65 L119.67,258.15 L119.68,259.65 L119.7,261.15 L119.71,262.65 L119.73,264.16 L119.74,265.66 L119.76,267.16 L119.77,268.66 L119.79,270.16 L119.81,271.66 L119.82,273.16 L119.84,274.66 L119.85,276.16 L119.87,277.67 L119.88,279.17 L119.9,280.67 L119.92,282.17 L119.93,283.67 L119.95,285.17 L119.96,286.67 L119.98,288.17 L120,289.67 L120.01,291.18 L120.03,292.68 L120.05,294.18 L120.06,295.68 L120.08,297.18 L120.1,298.68 L120.11,300.18 L120.13,301.68 L120.15,303.18 L120.16,304.69 L120.18,306.19 L120.2,307.69 L120.22,309.19 L120.23,310.69 L120.25,312.19 L120.27,313.69 L120.29,315.19 L120.3,316.69 L120.32,318.2 L120.34,319.7 L120.36,321.2 L120.38,322.7 L120.39,324.2 L120.41,325.7 L120.43,327.2 L120.45,328.7 L120.47,330.2 L120.49,331.71 L120.51,333.21 L120.53,334.71 L120.54,336.21 L120.56,337.71 L120.58,339.21 L120.6,340.71 L120.62,342.21 L120.64,343.71 L120.66,345.21 L120.68,346.72 L120.7,348.22 L120.72,349.72 L120.74,351.22 L120.76,352.72 L120.78,354.22 L120.8,355.72 L120.82,357.22 L120.84,358.72 L120.87,360.23 L120.89,361.73 L120.91,363.23 L120.93,364.73 L120.95,366.23 L120.97,367.73 L120.99,369.23 L121.02,370.73 L121.04,372.23 L121.06,373.73 L121.08,375.24 L121.1,376.74 L121.13,378.24 L121.15,379.74 L121.17,381.24 L121.2,382.74 L121.22,384.24 L121.24,385.74 L121.27,387.24 L121.29,388.74 L121.31,390.25 L121.34,391.75 L121.36,393.25 L121.38,394.75 L121.41,396.25 L121.43,397.75 L121.46,399.25 L121.48,400.75 L121.51,402.25 L121.53,403.75 L121.56,405.26 L121.58,406.76 L121.61,408.26 L121.64,409.76 L121.66,411.26 L121.69,412.76 L121.71,414.26 L121.74,415.76 L121.77,417.26 L121.79,418.76 L121.82,420.27 L121.85,421.77 L121.88,423.27 L121.9,424.77 L121.93,426.27 L121.96,427.77 L121.99,429.27 L122.01,430.77 L122.04,432.27 L122.07,433.77 L122.1,435.27 L122.13,436.78 L122.16,438.28 L122.19,439.78 L122.22,441.28 L122.25,442.78 L122.28,444.28 L122.31,445.78 L122.34,447.28 L122.37,448.78 L122.4,450.28 L122.43,451.78 L122.46,453.29 L122.5,454.79 L122.53,456.29 L122.56,457.79 L122.6,459.29 L122.63,460.79 L122.67,462.29 L122.7,463.79 L122.74,465.29 L122.78,466.79 L122.82,468.29 L122.86,469.79 L122.89,471.29 L122.93,472.8 L122.98,474.3 L123.02,475.8 L123.06,477.3 L123.1,478.8 L123.15,480.3 L123.2,481.8 L123.24,483.3 L123.29,484.8 L123.34,486.3 L123.39,487.8 L123.44,489.3 L123.49,490.8 L123.54,492.3 L123.59,493.8 L123.65,495.3 L123.7,496.8 L123.76,498.3 L123.81,499.8 L123.87,501.3 L123.92,502.8 L123.98,504.3 L124.03,505.8 L124.09,507.3 L124.15,508.8 L124.2,510.3 L124.26,511.8 L124.31,513.3 L124.37,514.8 L124.42,516.3 L124.48,517.8 L124.54,519.3 L124.59,520.8 L124.64,522.3 L124.7,523.8 L124.75,525.3 L124.8,526.8 L124.85,528.3 L124.91,529.81 L124.96,531.31 L125.01,532.81 L125.05,534.31 L125.1,535.81 L125.15,537.31 L125.19,538.81 L125.24,540.31 L125.28,541.81 L125.32,543.31 L125.36,544.81 L125.4,546.31 L125.44,547.81 L125.47,549.31 L125.51,550.81 L125.54,552.31 L125.57,553.82 L125.61,555.32 L125.64,556.82 L125.67,558.32 L125.7,559.82 L125.73,561.32 L125.76,562.82 L125.79,564.32 L125.82,565.82 L125.85,567.32 L125.88,568.83 L125.92,570.33 L125.95,571.83 L125.99,573.33 L126.02,574.83 L126.06,576.33 L126.1,577.83 L126.15,579.33 L126.19,580.83 L126.24,582.33 L126.29,583.83 L126.34,585.33 L126.39,586.83 L126.45,588.33 L126.51,589.83 L126.58,591.33 L126.64,592.83 L126.71,594.33 L126.79,595.83 L126.87,597.33 L126.95,598.83 L127.03,600.33 L127.12,601.83 L127.21,603.32 L127.3,604.82 L127.4,606.32 L127.5,607.82 L127.6,609.32 L127.71,610.81 L127.82,612.31 L127.93,613.81 L128.04,615.31 L128.16,616.8 L128.28,618.3 L128.4,619.8 L128.52,621.29 L128.65,622.79 L128.78,624.28 L128.91,625.78 L129.04,627.27 L129.18,628.77 L129.32,630.26 L129.46,631.76 L129.6,633.25 L129.75,634.75 L129.9,636.24 L130.04,637.73 L130.19,639.22 L130.35,640.72 L130.5,642.21 L130.65,643.7 L130.81,645.2 L130.96,646.69 L131.12,648.19 L131.28,649.68 L131.43,651.18 L131.59,652.67 L131.75,654.17 L131.9,655.66 L132.05,657.16 L132.2,658.65 L132.35,660.14 L132.49,661.64 L132.63,663.13 L132.76,664.62 L132.89,666.11 L133.02,667.6 L133.14,669.09 L133.27,670.57 L133.4,672.06 L133.54,673.55 L133.69,675.04 L133.86,676.53 L134.04,678.03 L134.25,679.52 L134.47,681.02 L134.72,682.53 L135,684.04 L135.3,685.54 L135.61,687.04 L135.93,688.53 L136.24,690.01 L136.55,691.46 L136.84,692.89 L137.1,694.3 L137.33,695.67 L137.55,697.03 L137.78,698.4 L138.01,699.79 L138.29,701.23 L138.61,702.75 L139.01,704.35 L139.49,706.06 L140.07,707.85 L140.75,709.47 L141.53,710.58 L142.41,710.89 L143.37,710.3 L144.36,709.06 L145.31,707.44 L146.18,705.73 L146.92,704.11 L147.55,702.58 L148.09,701.14 L148.55,699.75 L148.96,698.4 L149.34,697.08 L149.7,695.77 L150.06,694.44 L150.45,693.08 L150.85,691.69 L151.28,690.28 L151.72,688.85 L152.18,687.4 L152.66,685.95 L153.14,684.49 L153.65,683.03 L154.16,681.58 L154.67,680.14 L155.21,678.72 L155.77,677.31 L156.37,675.94 L157.01,674.59 L157.71,673.28 L158.48,672.01 L159.32,670.77 L160.22,669.58 L161.17,668.42 L162.17,667.3 L163.21,666.2 L164.28,665.13 L165.38,664.09 L166.5,663.08 L167.64,662.08 L168.78,661.11 L169.95,660.17 L171.13,659.25 L172.33,658.36 L173.55,657.5 L174.8,656.68 L176.07,655.89 L177.37,655.13 L178.68,654.41 L180.02,653.71 L181.37,653.05 L182.73,652.41 L184.11,651.79 L185.5,651.2 L186.89,650.63 L188.29,650.08 L189.7,649.54 L191.1,649.02 L192.51,648.52 L193.91,648.02 L195.32,647.55 L196.72,647.08 L198.13,646.64 L199.54,646.22 L200.95,645.81 L202.37,645.43 L203.8,645.07 L205.23,644.73 L206.66,644.42 L208.1,644.12 L209.54,643.85 L210.99,643.59 L212.44,643.36 L213.9,643.14 L215.36,642.95 L216.83,642.77 L218.3,642.61 L219.77,642.47 L221.25,642.35 L222.73,642.24 L224.21,642.15 L225.7,642.08 L227.19,642.02 L228.68,641.98 L230.18,641.96 L231.68,641.95 L233.18,641.95 L234.68,641.97 L236.19,642 L237.7,642.04 L239.21,642.1 L240.72,642.17 L242.24,642.25 L243.75,642.35 L245.27,642.45 L246.79,642.57 L248.31,642.7 L249.83,642.83 L251.36,642.98 L252.88,643.14 L254.41,643.3 L255.93,643.48 L257.46,643.66 L258.99,643.85 L260.51,644.05 L262.04,644.26 L263.57,644.47 L265.09,644.69 L266.62,644.91 L268.15,645.14 L269.67,645.38 L271.2,645.62 L272.73,645.86 L274.25,646.11 L275.77,646.37 L277.3,646.62 L278.82,646.88 L280.34,647.14 L281.85,647.41 L283.37,647.67 L284.89,647.94 L286.4,648.21 L287.91,648.48 L289.42,648.75 L290.93,649.02 L292.43,649.29 L293.94,649.57 L295.44,649.84 L296.94,650.11 L298.44,650.39 L299.93,650.67 L301.43,650.94 L302.92,651.22 L304.42,651.5 L305.91,651.78 L307.4,652.06 L308.88,652.34 L310.37,652.62 L311.85,652.9 L313.34,653.19 L314.82,653.47 L316.3,653.76 L317.78,654.04 L319.26,654.33 L320.74,654.61 L322.21,654.9 L323.69,655.19 L325.16,655.48 L326.64,655.77 L328.11,656.06 L329.58,656.35 L331.05,656.64 L332.52,656.94 L333.99,657.23 L335.45,657.52 L336.92,657.82 L338.39,658.12 L339.85,658.41 L341.31,658.71 L342.78,659.01 L344.24,659.31 L345.7,659.6 L347.16,659.9 L348.63,660.2 L350.09,660.51 L351.55,660.81 L353.01,661.11 L354.46,661.41 L355.92,661.72 L357.38,662.02 L358.84,662.33 L360.3,662.63 L361.75,662.94 L363.21,663.24 L364.67,663.55 L366.12,663.86 L367.58,664.17 L369.04,664.48 L370.49,664.79 L371.95,665.1 L373.41,665.41 L374.86,665.72 L376.32,666.03 L377.78,666.34 L379.23,666.66 L380.69,666.97 L382.15,667.28 L383.6,667.6 L385.06,667.91 L386.52,668.23 L387.97,668.55 L389.43,668.86 L390.89,669.18 L392.35,669.5 L393.8,669.82 L395.26,670.13 L396.72,670.45 L398.18,670.77 L399.64,671.09 L401.09,671.41 L402.55,671.73 L404.01,672.06 L405.47,672.38 L406.93,672.7 L408.39,673.02 L409.85,673.35 L411.31,673.67 L412.76,673.99 L414.22,674.32 L415.68,674.64 L417.14,674.97 L418.6,675.29 L420.06,675.62 L421.52,675.95 L422.98,676.27 L424.44,676.6 L425.9,676.93 L427.36,677.26 L428.82,677.58 L430.28,677.91 L431.74,678.24 L433.2,678.57 L434.66,678.9 L436.12,679.23 L437.58,679.56 L439.04,679.89 L440.51,680.22 L441.97,680.55 L443.43,680.89 L444.89,681.22 L446.35,681.55 L447.81,681.88 L449.27,682.21 L450.73,682.55 L452.2,682.88 L453.66,683.21 L455.12,683.55 L456.58,683.88 L458.04,684.22 L459.51,684.55 L460.97,684.88 L462.43,685.22 L463.89,685.55 L465.35,685.89 L466.82,686.22 L468.28,686.56 L469.74,686.9 L471.2,687.23 L472.67,687.57 L474.13,687.9 L475.59,688.24 L477.05,688.58 L478.52,688.91 L479.98,689.25 L481.44,689.59 L482.91,689.93 L484.37,690.26 L485.83,690.6 L487.3,690.94 L488.76,691.28 L490.22,691.61 L491.69,691.95 L493.15,692.29 L494.61,692.63 L496.08,692.97 L497.54,693.31 L499.01,693.64 L500.47,693.98 L501.93,694.32 L503.4,694.66 L504.86,695 L506.33,695.34 L507.79,695.67 L509.25,696.01 L510.72,696.35 L512.18,696.69 L513.65,697.03 L515.11,697.37 L516.58,697.71 L518.04,698.05 L519.5,698.39 L520.97,698.72 L522.43,699.06 L523.9,699.4 L525.36,699.74 L526.83,700.08 L528.29,700.42 L529.76,700.76 L531.22,701.09 L532.69,701.43 L534.15,701.77 L535.62,702.11 L537.08,702.45 L538.55,702.79 L540.01,703.12 L541.48,703.46 L542.94,703.8 L544.41,704.14 L545.87,704.48 L547.34,704.81 L548.81,705.15 L550.27,705.49 L551.74,705.83 L553.2,706.16 L554.67,706.5 L556.13,706.84 L557.6,707.17 L559.06,707.51 L560.53,707.85 L562,708.18 L563.46,708.52 L564.93,708.85 L566.39,709.19 L567.86,709.52 L569.32,709.86 L570.79,710.19 L572.26,710.53 L573.72,710.86 L575.19,711.2 L576.65,711.53 L578.12,711.87 L579.59,712.2 L581.05,712.53 L582.52,712.87 L583.98,713.2 L585.45,713.53 L586.92,713.86 L588.38,714.2 L589.85,714.53 L591.31,714.86 L592.78,715.19 L594.25,715.52 L595.71,715.85 L597.18,716.18 L598.64,716.51 L600.11,716.84 L601.58,717.17 L603.04,717.5 L604.51,717.83 L605.98,718.16 L607.44,718.49 L608.91,718.82 L610.37,719.15 L611.84,719.48 L613.31,719.8 L614.77,720.13 L616.24,720.46 L617.71,720.79 L619.17,721.11 L620.64,721.44 L622.11,721.77 L623.57,722.09 L625.04,722.42 L626.51,722.74 L627.97,723.07 L629.44,723.39 L630.91,723.72 L632.37,724.04 L633.84,724.37 L635.31,724.69 L636.78,725.02 L638.24,725.34 L639.71,725.66 L641.18,725.99 L642.64,726.31 L644.11,726.63 L645.58,726.95 L647.04,727.28 L648.51,727.6 L649.98,727.92 L651.45,728.24 L652.91,728.56 L654.38,728.88 L655.85,729.2 L657.32,729.52 L658.78,729.84 L660.25,730.16 L661.72,730.48 L663.19,730.8 L664.65,731.12 L666.12,731.43 L667.59,731.75 L669.06,732.07 L670.52,732.39 L671.99,732.7 L673.46,733.02 L674.93,733.34 L676.39,733.65 L677.86,733.97 L679.33,734.29 L680.8,734.6 L682.27,734.92 L683.73,735.23 L685.2,735.55 L686.67,735.86 L688.14,736.17 L689.61,736.49 L691.08,736.8 L692.54,737.11 L694.01,737.43 L695.48,737.74 L696.95,738.05 L698.42,738.36 L699.89,738.68 L701.35,738.99 L702.82,739.3 L704.29,739.61 L705.76,739.92 L707.23,740.23 L708.7,740.54 L710.17,740.85 L711.64,741.16 L713.1,741.47 L714.57,741.77 L716.04,742.08 L717.51,742.39 L718.98,742.7 L720.45,743 L721.92,743.31 L723.39,743.62 L724.86,743.92 L726.33,744.23 L727.8,744.54 L729.26,744.84 L730.73,745.15 L732.2,745.45 L733.67,745.76 L735.14,746.06 L736.61,746.36 L738.08,746.67 L739.55,746.97 L741.02,747.27 L742.49,747.58 L743.96,747.88 L745.43,748.18 L746.9,748.48 L748.37,748.78 L749.84,749.08 L751.31,749.38 L752.78,749.68 L754.25,749.98 L755.72,750.28 L757.19,750.58 L758.66,750.88 L760.13,751.18 L761.6,751.48 L763.07,751.78 L764.54,752.07 L766.01,752.37 L767.48,752.67 L768.96,752.96 L770.43,753.26 L771.9,753.55 L773.37,753.85 L774.84,754.15 L776.31,754.44 L777.78,754.73 L779.25,755.03 L780.72,755.32 L782.19,755.62 L783.67,755.91 L785.14,756.2 L786.61,756.49 L788.08,756.79 L789.55,757.08 L791.02,757.37 L792.49,757.66 L793.97,757.95 L795.44,758.24 L796.91,758.53 L798.38,758.82 L799.85,759.11 L801.32,759.4 L802.8,759.69 L804.27,759.97 L805.74,760.26 L807.21,760.55 L808.69,760.84 L810.16,761.12 L811.63,761.41 L813.1,761.69 L814.57,761.98 L816.05,762.26 L817.52,762.55 L818.99,762.83 L820.47,763.12 L821.94,763.4 L823.41,763.68 L824.88,763.97 L826.36,764.25 L827.83,764.53 L829.3,764.81 L830.78,765.1 L832.25,765.38 L833.72,765.66 L835.2,765.94 L836.67,766.22 L838.14,766.5 L839.62,766.78 L841.09,767.05 L842.56,767.33 L844.04,767.61 L845.51,767.89 L846.98,768.17 L848.46,768.44 L849.93,768.72 L851.41,769 L852.88,769.27 L854.36,769.55 L855.83,769.82 L857.3,770.1 L858.78,770.37 L860.25,770.64 L861.73,770.92 L863.2,771.19 L864.68,771.46 L866.15,771.73 L867.63,772.01 L869.1,772.28 L870.58,772.55 L872.05,772.82 L873.53,773.09 L875,773.36 L876.48,773.63 L877.95,773.9 L879.43,774.17 L880.9,774.43 L882.38,774.7 L883.85,774.97 L885.33,775.24 L886.81,775.5 L888.28,775.77 L889.76,776.03 L891.23,776.3 L892.71,776.56 L894.18,776.83 L895.66,777.09 L897.14,777.36 L898.61,777.62 L900.09,777.88 L901.57,778.14 L903.04,778.41 L904.52,778.67 L906,778.93 L907.47,779.19 L908.95,779.45 L910.43,779.71 L911.9,779.97 L913.38,780.23 L914.86,780.49 L916.34,780.75 L917.81,781 L919.29,781.26 L920.77,781.52 L922.25,781.77 L923.72,782.03 L925.2,782.29 L926.68,782.54 L928.16,782.8 L929.63,783.05 L931.11,783.3 L932.59,783.56 L934.07,783.81 L935.55,784.06 L937.03,784.32 L938.5,784.57 L939.98,784.82 L941.46,785.07 L942.94,785.32 L944.42,785.57 L945.9,785.82 L947.38,786.07 L948.86,786.32 L950.33,786.57 L951.81,786.81 L953.29,787.06 L954.77,787.31 L956.25,787.55 L957.73,787.8 L959.21,788.05 L960.69,788.29 L962.17,788.54 L963.65,788.78 L965.13,789.02 L966.61,789.27 L968.09,789.51 L969.57,789.75 L971.05,789.99 L972.53,790.24 L974.01,790.48 L975.49,790.72 L976.97,790.96 L978.45,791.2 L979.94,791.44 L981.42,791.68 L982.9,791.91 L984.38,792.15 L985.86,792.39 L987.34,792.63 L988.82,792.86 L990.3,793.1 L991.79,793.33 L993.27,793.57 L994.75,793.8 L996.23,794.04 L997.71,794.27 L999.19,794.5 L1000.68,794.74 L1002.16,794.97 L1003.64,795.2 L1005.12,795.43 L1006.61,795.66 L1008.09,795.89 L1009.57,796.12 L1011.05,796.35 L1012.54,796.58 L1014.02,796.81 L1015.5,797.04 L1016.99,797.27 L1018.47,797.49 L1019.95,797.72 L1021.44,797.95 L1022.92,798.17 L1024.4,798.4 L1025.89,798.62 L1027.37,798.85 L1028.85,799.07 L1030.34,799.29 L1031.82,799.51 L1033.31,799.74 L1034.79,799.96 L1036.28,800.18 L1037.76,800.4 L1039.24,800.62 L1040.73,800.84 L1042.21,801.06 L1043.7,801.28 L1045.18,801.5 L1046.67,801.71 L1048.15,801.93 L1049.64,802.15 L1051.12,802.36 L1052.61,802.58 L1054.1,802.8 L1055.58,803.01 L1057.07,803.22 L1058.55,803.44 L1060.04,803.65 L1061.53,803.86 L1063.01,804.08 L1064.5,804.29 L1065.98,804.5 L1067.47,804.71 L1068.96,804.92 L1070.44,805.13 L1071.93,805.34 L1073.42,805.55 L1074.91,805.76 L1076.39,805.96 L1077.88,806.17 L1079.37,806.38 L1080.85,806.58 L1082.34,806.79 L1083.83,806.99 L1085.32,807.2 L1086.81,807.4 L1088.29,807.61 L1089.78,807.81 L1091.27,808.01 L1092.76,808.21 L1094.25,808.41 L1095.74,808.62 L1097.22,808.82 L1098.71,809.02 L1100.2,809.21 L1101.69,809.41 L1103.18,809.61 L1104.67,809.81 L1106.16,810.01 L1107.65,810.2 L1109.14,810.4 L1110.63,810.59 L1112.12,810.79 L1113.61,810.98 L1115.1,811.18 L1116.59,811.37 L1118.08,811.57 L1119.57,811.76 L1121.06,811.95 L1122.55,812.14 L1124.04,812.33 L1125.53,812.52 L1127.02,812.71 L1128.51,812.9 L1130,813.09 L1131.49,813.28 L1132.98,813.46 L1134.48,813.65 L1135.97,813.84 L1137.46,814.02 L1138.95,814.21 L1140.44,814.39 L1141.93,814.58 L1143.43,814.76 L1144.92,814.95 L1146.41,815.13 L1147.9,815.31 L1149.4,815.49 L1150.89,815.67 L1152.38,815.85 L1153.88,816.03 L1155.37,816.21 L1156.86,816.39 L1158.35,816.57 L1159.85,816.75 L1161.34,816.92 L1162.84,817.1 L1164.33,817.28 L1165.82,817.45 L1167.32,817.63 L1168.81,817.8 L1170.31,817.97 L1171.8,818.15 L1173.29,818.32 L1174.79,818.49 L1176.28,818.66 L1177.78,818.83 L1179.27,819 L1180.77,819.17 L1182.26,819.34 L1183.76,819.51 L1185.26,819.68 L1186.75,819.85 L1188.25,820.01 L1189.74,820.18 L1191.24,820.35 L1192.73,820.51 L1194.23,820.67 L1195.73,820.84 L1197.22,821 L1198.72,821.16 L1200.22,821.33 L1201.71,821.49 L1203.21,821.65 L1204.71,821.81 L1206.21,821.97 L1207.7,822.13 L1209.2,822.29 L1210.7,822.45" stroke="#FF1A0D" stroke-width="5"/>
</g>
<g font-size="34.5" font-weight="bold" font-style="italic" fill="#000">
<text x="79.6" y="178.9">Peak 1</text>
<text x="136.4" y="394">Peak 2</text>
<text x="146.8" y="626">Peak 2</text>
</g>
<path d="M92.5,1242.5 H1211.8" stroke="#868686" stroke-width="2" fill="none"/>
<path d="M1211.8,1242.5 V2124.4" stroke="#868686" stroke-width="1.9" fill="none"/>
<path d="M92.5,1242.5 V2124.4" stroke="#434343" stroke-width="2.5" fill="none"/>
<path d="M92.5,2124.4 H1211.8" stroke="#434343" stroke-width="2.5" fill="none"/>
<path d="M83.3,2124.4 H92.5 M83.3,2014.16 H92.5 M83.3,1903.93 H92.5 M83.3,1793.69 H92.5 M83.3,1683.45 H92.5 M83.3,1573.21 H92.5 M83.3,1462.97 H92.5 M83.3,1352.74 H92.5 M83.3,1242.5 H92.5" stroke="#434343" stroke-width="2.3"/>
<path d="M92.5,2124.4 V2133.4 M185.77,2124.4 V2133.4 M279.05,2124.4 V2133.4 M372.32,2124.4 V2133.4 M465.6,2124.4 V2133.4 M558.88,2124.4 V2133.4 M652.15,2124.4 V2133.4 M745.42,2124.4 V2133.4 M838.7,2124.4 V2133.4 M931.97,2124.4 V2133.4 M1025.25,2124.4 V2133.4 M1118.52,2124.4 V2133.4 M1211.8,2124.4 V2133.4" stroke="#434343" stroke-width="2.3"/>
<path d="M1211.8,2124.4 H1220.8 M1211.8,2036.21 H1220.8 M1211.8,1948.02 H1220.8 M1211.8,1859.83 H1220.8 M1211.8,1771.64 H1220.8 M1211.8,1683.45 H1220.8 M1211.8,1595.26 H1220.8 M1211.8,1507.07 H1220.8 M1211.8,1418.88 H1220.8 M1211.8,1330.69 H1220.8 M1211.8,1242.5 H1220.8" stroke="#868686" stroke-width="1.9"/>
<path d="M92.5,1242.5 V1234 M252.4,1242.5 V1234 M412.3,1242.5 V1234 M572.2,1242.5 V1234 M732.1,1242.5 V1234 M892,1242.5 V1234 M1051.9,1242.5 V1234 M1211.8,1242.5 V1234" stroke="#868686" stroke-width="1.9"/>
<g fill="#000" font-size="31.5">
<text x="66.9" y="2135.7" text-anchor="end">0</text>
<text x="66.9" y="2025.46" text-anchor="end">1</text>
<text x="66.9" y="1915.23" text-anchor="end">2</text>
<text x="66.9" y="1804.99" text-anchor="end">3</text>
<text x="66.9" y="1694.75" text-anchor="end">4</text>
<text x="66.9" y="1584.51" text-anchor="end">5</text>
<text x="66.9" y="1474.27" text-anchor="end">6</text>
<text x="66.9" y="1364.04" text-anchor="end">7</text>
<text x="66.9" y="1253.8" text-anchor="end">8</text>
<text x="1237.6" y="2135.7">0</text>
<text x="1237.6" y="2047.51">20</text>
<text x="1237.6" y="1959.32">40</text>
<text x="1237.6" y="1871.13">60</text>
<text x="1237.6" y="1782.94">80</text>
<text x="1237.6" y="1694.75">100</text>
<text x="1237.6" y="1606.56">120</text>
<text x="1237.6" y="1518.37">140</text>
<text x="1237.6" y="1430.18">160</text>
<text x="1237.6" y="1341.99">180</text>
<text x="1237.6" y="1253.8">200</text>
<text x="92.5" y="2171.6" text-anchor="middle">0</text>
<text x="185.77" y="2171.6" text-anchor="middle">2</text>
<text x="279.05" y="2171.6" text-anchor="middle">4</text>
<text x="372.32" y="2171.6" text-anchor="middle">6</text>
<text x="465.6" y="2171.6" text-anchor="middle">8</text>
<text x="558.88" y="2171.6" text-anchor="middle">10</text>
<text x="652.15" y="2171.6" text-anchor="middle">12</text>
<text x="745.42" y="2171.6" text-anchor="middle">14</text>
<text x="838.7" y="2171.6" text-anchor="middle">16</text>
<text x="931.97" y="2171.6" text-anchor="middle">18</text>
<text x="1025.25" y="2171.6" text-anchor="middle">20</text>
<text x="1118.52" y="2171.6" text-anchor="middle">22</text>
<text x="1211.8" y="2171.6" text-anchor="middle">24</text>
<text x="92.5" y="1216.5" text-anchor="middle">0</text>
<text x="252.4" y="1216.5" text-anchor="middle">24</text>
<text x="412.3" y="1216.5" text-anchor="middle">48</text>
<text x="572.2" y="1216.5" text-anchor="middle">72</text>
<text x="732.1" y="1216.5" text-anchor="middle">96</text>
<text x="892" y="1216.5" text-anchor="middle">120</text>
<text x="1051.9" y="1216.5" text-anchor="middle">144</text>
<text x="1211.8" y="1216.5" text-anchor="middle">168</text>
</g>
<text x="348.3" y="1172.2" font-size="31.1" fill="#000">Duration of hydration for cumulative heat (h)</text>
<text x="464.7" y="2219" font-size="31.4" fill="#000">Duration of hydration (h)</text>
<text transform="translate(29.6,1662.4) rotate(-90)" font-size="31.25" fill="#000" text-anchor="middle">Heat evolution (mW/g of GGBS or FA)</text>
<text transform="translate(1337,1680.9) rotate(-90)" font-size="31.25" fill="#000" text-anchor="middle">Cumulative heat evolution (J/g of GGBS or FA)</text>
<text x="1285" y="1182.2" font-size="44" fill="#000">(b)</text>
<g clip-path="url(#cb)" fill="none" stroke-linejoin="round">
<path d="M92.45,2123.98 L92.59,2121.48 L92.72,2118.98 L92.86,2116.48 L92.99,2113.98 L93.13,2111.48 L93.27,2108.98 L93.4,2106.47 L93.54,2103.97 L93.68,2101.47 L93.82,2098.97 L93.96,2096.47 L94.1,2093.97 L94.24,2091.47 L94.38,2088.96 L94.52,2086.46 L94.66,2083.96 L94.8,2081.46 L94.95,2078.96 L95.09,2076.45 L95.23,2073.95 L95.38,2071.45 L95.52,2068.95 L95.66,2066.45 L95.81,2063.94 L95.96,2061.44 L96.1,2058.94 L96.25,2056.44 L96.4,2053.93 L96.55,2051.43 L96.69,2048.93 L96.84,2046.43 L96.99,2043.93 L97.14,2041.42 L97.3,2038.92 L97.45,2036.42 L97.6,2033.92 L97.75,2031.41 L97.91,2028.91 L98.06,2026.41 L98.22,2023.91 L98.37,2021.4 L98.53,2018.9 L98.69,2016.4 L98.84,2013.9 L99,2011.4 L99.16,2008.89 L99.32,2006.39 L99.48,2003.89 L99.64,2001.39 L99.81,1998.88 L99.97,1996.38 L100.13,1993.88 L100.3,1991.38 L100.46,1988.88 L100.63,1986.37 L100.8,1983.87 L100.96,1981.37 L101.13,1978.87 L101.3,1976.37 L101.47,1973.87 L101.64,1971.36 L101.81,1968.86 L101.99,1966.36 L102.16,1963.86 L102.33,1961.36 L102.51,1958.86 L102.69,1956.36 L102.86,1953.85 L103.04,1951.35 L103.22,1948.85 L103.4,1946.35 L103.58,1943.85 L103.76,1941.35 L103.94,1938.85 L104.13,1936.35 L104.31,1933.85 L104.5,1931.35 L104.68,1928.85 L104.87,1926.35 L105.06,1923.85 L105.25,1921.35 L105.44,1918.85 L105.63,1916.35 L105.82,1913.85 L106.02,1911.35 L106.21,1908.85 L106.41,1906.35 L106.6,1903.85 L106.8,1901.35 L107,1898.85 L107.2,1896.35 L107.4,1893.85 L107.6,1891.35 L107.81,1888.86 L108.01,1886.36 L108.22,1883.86 L108.42,1881.36 L108.63,1878.86 L108.84,1876.36 L109.05,1873.87 L109.26,1871.37 L109.47,1868.87 L109.68,1866.37 L109.9,1863.88 L110.12,1861.38 L110.33,1858.88 L110.55,1856.39 L110.77,1853.89 L110.99,1851.39 L111.21,1848.9 L111.44,1846.4 L111.66,1843.9 L111.89,1841.41 L112.11,1838.91 L112.34,1836.42 L112.57,1833.92 L112.8,1831.43 L113.03,1828.93 L113.27,1826.44 L113.5,1823.94 L113.74,1821.45 L113.98,1818.96 L114.22,1816.46 L114.46,1813.97 L114.7,1811.47 L114.94,1808.98 L115.18,1806.49 L115.43,1803.99 L115.68,1801.5 L115.93,1799.01 L116.17,1796.52 L116.43,1794.02 L116.68,1791.53 L116.93,1789.04 L117.19,1786.55 L117.45,1784.06 L117.7,1781.57 L117.96,1779.08 L118.23,1776.59 L118.49,1774.09 L118.75,1771.6 L119.02,1769.11 L119.29,1766.62 L119.56,1764.14 L119.83,1761.65 L120.1,1759.16 L120.37,1756.67 L120.65,1754.18 L120.92,1751.69 L121.2,1749.2 L121.48,1746.72 L121.77,1744.23 L122.05,1741.74 L122.34,1739.26 L122.63,1736.77 L122.93,1734.28 L123.22,1731.8 L123.53,1729.31 L123.83,1726.83 L124.14,1724.35 L124.45,1721.86 L124.76,1719.38 L125.08,1716.9 L125.41,1714.42 L125.74,1711.94 L126.07,1709.46 L126.41,1706.98 L126.75,1704.5 L127.1,1702.02 L127.45,1699.54 L127.81,1697.07 L128.17,1694.59 L128.54,1692.12 L128.92,1689.64 L129.3,1687.17 L129.69,1684.7 L130.08,1682.23 L130.48,1679.76 L130.89,1677.29 L131.31,1674.82 L131.73,1672.35 L132.16,1669.88 L132.59,1667.42 L133.04,1664.95 L133.49,1662.49 L133.95,1660.03 L134.42,1657.57 L134.89,1655.11 L135.38,1652.65 L135.87,1650.19 L136.37,1647.73 L136.88,1645.28 L137.41,1642.83 L137.94,1640.38 L138.49,1637.93 L139.05,1635.48 L139.62,1633.04 L140.2,1630.6 L140.8,1628.16 L141.41,1625.73 L142.04,1623.3 L142.69,1620.87 L143.35,1618.45 L144.02,1616.03 L144.72,1613.62 L145.43,1611.21 L146.16,1608.8 L146.91,1606.4 L147.68,1604.01 L148.47,1601.62 L149.28,1599.23 L150.11,1596.85 L150.96,1594.48 L151.84,1592.11 L152.73,1589.75 L153.65,1587.4 L154.59,1585.06 L155.54,1582.72 L156.52,1580.39 L157.52,1578.07 L158.54,1575.76 L159.59,1573.45 L160.65,1571.16 L161.73,1568.88 L162.84,1566.61 L163.96,1564.35 L165.11,1562.1 L166.28,1559.86 L167.46,1557.64 L168.67,1555.42 L169.9,1553.23 L171.15,1551.04 L172.42,1548.87 L173.71,1546.71 L175.02,1544.56 L176.35,1542.43 L177.7,1540.32 L179.07,1538.22 L180.47,1536.14 L181.88,1534.07 L183.31,1532.02 L184.77,1529.99 L186.24,1527.97 L187.73,1525.97 L189.25,1524 L190.78,1522.04 L192.33,1520.09 L193.91,1518.17 L195.5,1516.27 L197.12,1514.39 L198.75,1512.52 L200.4,1510.68 L202.08,1508.86 L203.77,1507.06 L205.48,1505.27 L207.21,1503.51 L208.95,1501.76 L210.72,1500.04 L212.5,1498.33 L214.3,1496.64 L216.12,1494.97 L217.96,1493.32 L219.81,1491.69 L221.68,1490.07 L223.56,1488.48 L225.46,1486.9 L227.38,1485.34 L229.31,1483.8 L231.26,1482.27 L233.22,1480.76 L235.2,1479.27 L237.19,1477.8 L239.2,1476.35 L241.22,1474.91 L243.26,1473.49 L245.3,1472.08 L247.37,1470.69 L249.44,1469.32 L251.53,1467.96 L253.63,1466.62 L255.75,1465.3 L257.87,1463.99 L260.01,1462.7 L262.16,1461.42 L264.32,1460.16 L266.49,1458.92 L268.68,1457.69 L270.87,1456.47 L273.08,1455.27 L275.29,1454.09 L277.52,1452.92 L279.75,1451.76 L282,1450.62 L284.25,1449.49 L286.52,1448.38 L288.79,1447.28 L291.07,1446.2 L293.36,1445.13 L295.66,1444.07 L297.96,1443.03 L300.28,1442 L302.6,1440.98 L304.92,1439.97 L307.26,1438.98 L309.6,1438.01 L311.95,1437.04 L314.3,1436.09 L316.66,1435.15 L319.03,1434.22 L321.4,1433.3 L323.77,1432.4 L326.16,1431.51 L328.54,1430.63 L330.93,1429.76 L333.33,1428.91 L335.73,1428.06 L338.13,1427.23 L340.54,1426.41 L342.95,1425.59 L345.36,1424.79 L347.77,1424 L350.19,1423.22 L352.61,1422.46 L355.04,1421.7 L357.46,1420.95 L359.89,1420.21 L362.31,1419.48 L364.74,1418.77 L367.17,1418.06 L369.6,1417.36 L372.03,1416.67 L374.46,1415.99 L376.9,1415.32 L379.33,1414.66 L381.76,1414.01 L384.19,1413.36 L386.63,1412.73 L389.06,1412.1 L391.49,1411.48 L393.93,1410.87 L396.36,1410.27 L398.8,1409.68 L401.23,1409.09 L403.67,1408.51 L406.1,1407.94 L408.54,1407.38 L410.98,1406.83 L413.42,1406.28 L415.85,1405.74 L418.29,1405.2 L420.73,1404.68 L423.17,1404.16 L425.61,1403.65 L428.05,1403.14 L430.5,1402.64 L432.94,1402.15 L435.38,1401.66 L437.82,1401.18 L440.27,1400.7 L442.71,1400.23 L445.16,1399.77 L447.6,1399.31 L450.05,1398.86 L452.5,1398.41 L454.94,1397.97 L457.39,1397.53 L459.84,1397.1 L462.29,1396.67 L464.74,1396.24 L467.19,1395.83 L469.65,1395.41 L472.1,1395 L474.55,1394.6 L477.01,1394.19 L479.46,1393.8 L481.92,1393.4 L484.37,1393.01 L486.83,1392.63 L489.29,1392.24 L491.75,1391.86 L494.21,1391.49 L496.67,1391.11 L499.13,1390.74 L501.59,1390.37 L504.05,1390.01 L506.52,1389.64 L508.98,1389.28 L511.45,1388.93 L513.92,1388.57 L516.38,1388.22 L518.85,1387.86 L521.32,1387.51 L523.79,1387.16 L526.26,1386.82 L528.73,1386.47 L531.21,1386.13 L533.68,1385.78 L536.16,1385.44 L538.63,1385.1 L541.11,1384.76 L543.59,1384.42 L546.07,1384.09 L548.55,1383.75 L551.03,1383.42 L553.51,1383.08 L555.99,1382.75 L558.47,1382.42 L560.96,1382.09 L563.44,1381.77 L565.93,1381.44 L568.41,1381.12 L570.9,1380.79 L573.39,1380.47 L575.87,1380.15 L578.36,1379.83 L580.85,1379.52 L583.34,1379.2 L585.83,1378.89 L588.32,1378.57 L590.81,1378.26 L593.31,1377.95 L595.8,1377.64 L598.29,1377.34 L600.79,1377.03 L603.28,1376.73 L605.77,1376.43 L608.27,1376.13 L610.77,1375.83 L613.26,1375.53 L615.76,1375.23 L618.25,1374.94 L620.75,1374.65 L623.25,1374.36 L625.75,1374.07 L628.24,1373.78 L630.74,1373.49 L633.24,1373.21 L635.74,1372.93 L638.24,1372.65 L640.74,1372.37 L643.24,1372.09 L645.74,1371.82 L648.24,1371.54 L650.74,1371.27 L653.24,1371 L655.74,1370.73 L658.24,1370.46 L660.74,1370.2 L663.24,1369.94 L665.74,1369.67 L668.25,1369.41 L670.75,1369.16 L673.25,1368.9 L675.75,1368.65 L678.25,1368.39 L680.75,1368.14 L683.25,1367.9 L685.75,1367.65 L688.25,1367.41 L690.76,1367.16 L693.26,1366.92 L695.76,1366.68 L698.26,1366.44 L700.76,1366.21 L703.26,1365.98 L705.76,1365.74 L708.26,1365.51 L710.76,1365.28 L713.26,1365.06 L715.76,1364.83 L718.27,1364.61 L720.77,1364.39 L723.27,1364.17 L725.77,1363.95 L728.27,1363.73 L730.77,1363.52 L733.27,1363.31 L735.77,1363.09 L738.27,1362.89 L740.77,1362.68 L743.27,1362.47 L745.77,1362.27 L748.27,1362.06 L750.77,1361.86 L753.28,1361.66 L755.78,1361.46 L758.28,1361.27 L760.78,1361.07 L763.28,1360.88 L765.78,1360.69 L768.28,1360.5 L770.78,1360.31 L773.28,1360.12 L775.78,1359.93 L778.28,1359.75 L780.78,1359.57 L783.28,1359.39 L785.78,1359.21 L788.29,1359.03 L790.79,1358.85 L793.29,1358.68 L795.79,1358.5 L798.29,1358.33 L800.79,1358.16 L803.29,1357.99 L805.79,1357.82 L808.29,1357.66 L810.79,1357.49 L813.29,1357.33 L815.79,1357.16 L818.29,1357 L820.8,1356.84 L823.3,1356.69 L825.8,1356.53 L828.3,1356.37 L830.8,1356.22 L833.3,1356.07 L835.8,1355.91 L838.3,1355.76 L840.8,1355.62 L843.3,1355.47 L845.8,1355.32 L848.31,1355.18 L850.81,1355.03 L853.31,1354.89 L855.81,1354.75 L858.31,1354.61 L860.81,1354.47 L863.31,1354.33 L865.81,1354.2 L868.31,1354.06 L870.82,1353.93 L873.32,1353.79 L875.82,1353.66 L878.32,1353.53 L880.82,1353.4 L883.32,1353.27 L885.82,1353.15 L888.33,1353.02 L890.83,1352.9 L893.33,1352.77 L895.83,1352.65 L898.33,1352.53 L900.83,1352.41 L903.34,1352.29 L905.84,1352.17 L908.34,1352.05 L910.84,1351.94 L913.34,1351.82 L915.84,1351.71 L918.35,1351.6 L920.85,1351.48 L923.35,1351.37 L925.85,1351.26 L928.35,1351.15 L930.86,1351.05 L933.36,1350.94 L935.86,1350.83 L938.36,1350.73 L940.87,1350.62 L943.37,1350.52 L945.87,1350.42 L948.37,1350.32 L950.88,1350.22 L953.38,1350.12 L955.88,1350.02 L958.38,1349.92 L960.89,1349.82 L963.39,1349.73 L965.89,1349.63 L968.4,1349.54 L970.9,1349.44 L973.4,1349.35 L975.9,1349.26 L978.41,1349.17 L980.91,1349.08 L983.41,1348.99 L985.92,1348.9 L988.42,1348.81 L990.92,1348.73 L993.43,1348.64 L995.93,1348.55 L998.44,1348.47 L1000.94,1348.38 L1003.44,1348.3 L1005.95,1348.22 L1008.45,1348.14 L1010.95,1348.06 L1013.46,1347.97 L1015.96,1347.89 L1018.47,1347.82 L1020.97,1347.74 L1023.48,1347.66 L1025.98,1347.58 L1028.48,1347.51 L1030.99,1347.43 L1033.49,1347.35 L1036,1347.28 L1038.5,1347.2 L1041.01,1347.13 L1043.51,1347.06 L1046.02,1346.99 L1048.52,1346.91 L1051.03,1346.84 L1053.53,1346.77 L1056.04,1346.7 L1058.54,1346.63 L1061.05,1346.56 L1063.56,1346.49 L1066.06,1346.43 L1068.57,1346.36 L1071.07,1346.29 L1073.58,1346.22 L1076.08,1346.16 L1078.59,1346.09 L1081.1,1346.03 L1083.6,1345.96 L1086.11,1345.9 L1088.62,1345.83 L1091.12,1345.77 L1093.63,1345.71 L1096.14,1345.64 L1098.64,1345.58 L1101.15,1345.52 L1103.66,1345.46 L1106.16,1345.4 L1108.67,1345.34 L1111.18,1345.27 L1113.68,1345.21 L1116.19,1345.15 L1118.7,1345.09 L1121.21,1345.04 L1123.72,1344.98 L1126.22,1344.92 L1128.73,1344.86 L1131.24,1344.8 L1133.75,1344.74 L1136.26,1344.68 L1138.76,1344.63 L1141.27,1344.57 L1143.78,1344.51 L1146.29,1344.46 L1148.8,1344.4 L1151.31,1344.34 L1153.82,1344.29 L1156.33,1344.23 L1158.83,1344.17 L1161.34,1344.12 L1163.85,1344.06 L1166.36,1344.01 L1168.87,1343.95 L1171.38,1343.9 L1173.89,1343.84 L1176.4,1343.79 L1178.91,1343.73 L1181.42,1343.68 L1183.93,1343.62 L1186.44,1343.57 L1188.95,1343.51 L1191.46,1343.46 L1193.98,1343.41 L1196.49,1343.35 L1199,1343.3 L1201.51,1343.24 L1204.02,1343.19 L1206.53,1343.13 L1209.04,1343.08 L1211.55,1343.03" stroke="#E9BE30" stroke-width="3.85" stroke-dasharray="6.15 7.6" stroke-linecap="round"/>
<path d="M92.48,2124.02 L92.63,2121.51 L92.77,2119 L92.92,2116.5 L93.07,2113.99 L93.22,2111.48 L93.38,2108.98 L93.53,2106.47 L93.68,2103.97 L93.84,2101.46 L94,2098.96 L94.16,2096.45 L94.32,2093.95 L94.49,2091.44 L94.65,2088.94 L94.82,2086.43 L94.99,2083.93 L95.16,2081.43 L95.33,2078.92 L95.5,2076.42 L95.68,2073.92 L95.86,2071.42 L96.04,2068.91 L96.22,2066.41 L96.4,2063.91 L96.59,2061.41 L96.77,2058.91 L96.96,2056.4 L97.16,2053.9 L97.35,2051.4 L97.55,2048.9 L97.75,2046.4 L97.95,2043.9 L98.15,2041.4 L98.36,2038.91 L98.57,2036.41 L98.78,2033.91 L98.99,2031.41 L99.2,2028.91 L99.42,2026.41 L99.64,2023.92 L99.87,2021.42 L100.09,2018.92 L100.32,2016.43 L100.55,2013.93 L100.79,2011.44 L101.03,2008.94 L101.27,2006.45 L101.51,2003.95 L101.75,2001.46 L102,1998.97 L102.25,1996.47 L102.51,1993.98 L102.77,1991.49 L103.03,1988.99 L103.29,1986.5 L103.56,1984.01 L103.83,1981.52 L104.1,1979.03 L104.38,1976.54 L104.66,1974.05 L104.94,1971.56 L105.22,1969.07 L105.51,1966.58 L105.81,1964.1 L106.1,1961.61 L106.4,1959.12 L106.71,1956.64 L107.01,1954.15 L107.33,1951.66 L107.64,1949.18 L107.96,1946.69 L108.28,1944.21 L108.6,1941.73 L108.93,1939.24 L109.27,1936.76 L109.6,1934.28 L109.95,1931.8 L110.29,1929.31 L110.64,1926.83 L110.99,1924.35 L111.35,1921.87 L111.71,1919.39 L112.08,1916.91 L112.45,1914.43 L112.83,1911.96 L113.2,1909.48 L113.59,1907 L113.98,1904.52 L114.37,1902.05 L114.77,1899.57 L115.17,1897.1 L115.58,1894.62 L115.99,1892.15 L116.41,1889.67 L116.83,1887.2 L117.26,1884.73 L117.69,1882.25 L118.13,1879.78 L118.57,1877.31 L119.02,1874.84 L119.48,1872.37 L119.94,1869.9 L120.4,1867.43 L120.87,1864.96 L121.35,1862.49 L121.83,1860.02 L122.31,1857.55 L122.81,1855.08 L123.3,1852.62 L123.81,1850.15 L124.32,1847.68 L124.83,1845.22 L125.36,1842.75 L125.88,1840.29 L126.42,1837.82 L126.96,1835.36 L127.51,1832.9 L128.07,1830.44 L128.63,1827.98 L129.21,1825.53 L129.8,1823.07 L130.39,1820.62 L131,1818.18 L131.62,1815.74 L132.25,1813.3 L132.9,1810.86 L133.56,1808.43 L134.23,1806.01 L134.92,1803.59 L135.63,1801.18 L136.35,1798.77 L137.08,1796.37 L137.84,1793.98 L138.61,1791.6 L139.4,1789.22 L140.21,1786.85 L141.04,1784.48 L141.89,1782.13 L142.76,1779.79 L143.66,1777.45 L144.57,1775.12 L145.51,1772.81 L146.47,1770.5 L147.46,1768.21 L148.46,1765.92 L149.49,1763.65 L150.55,1761.39 L151.62,1759.13 L152.72,1756.89 L153.84,1754.66 L154.98,1752.45 L156.15,1750.24 L157.33,1748.05 L158.54,1745.87 L159.77,1743.7 L161.03,1741.55 L162.3,1739.41 L163.59,1737.28 L164.91,1735.17 L166.25,1733.07 L167.6,1730.98 L168.98,1728.91 L170.38,1726.85 L171.8,1724.8 L173.24,1722.77 L174.7,1720.76 L176.18,1718.76 L177.68,1716.78 L179.19,1714.81 L180.73,1712.86 L182.29,1710.92 L183.87,1709 L185.46,1707.09 L187.08,1705.21 L188.71,1703.33 L190.37,1701.48 L192.04,1699.64 L193.73,1697.82 L195.44,1696.02 L197.16,1694.24 L198.91,1692.47 L200.67,1690.72 L202.45,1688.99 L204.25,1687.28 L206.06,1685.58 L207.89,1683.9 L209.74,1682.24 L211.6,1680.59 L213.48,1678.96 L215.37,1677.35 L217.28,1675.76 L219.21,1674.18 L221.15,1672.61 L223.1,1671.07 L225.07,1669.53 L227.05,1668.02 L229.05,1666.52 L231.06,1665.03 L233.08,1663.56 L235.12,1662.11 L237.17,1660.67 L239.23,1659.25 L241.3,1657.84 L243.39,1656.44 L245.48,1655.06 L247.59,1653.7 L249.71,1652.34 L251.84,1651.01 L253.98,1649.68 L256.13,1648.37 L258.29,1647.08 L260.46,1645.79 L262.64,1644.52 L264.83,1643.27 L267.03,1642.03 L269.24,1640.8 L271.46,1639.58 L273.68,1638.38 L275.91,1637.18 L278.15,1636 L280.4,1634.84 L282.66,1633.68 L284.92,1632.54 L287.18,1631.41 L289.46,1630.29 L291.74,1629.18 L294.03,1628.09 L296.32,1627 L298.62,1625.93 L300.92,1624.87 L303.23,1623.82 L305.54,1622.78 L307.85,1621.75 L310.17,1620.73 L312.5,1619.72 L314.82,1618.72 L317.16,1617.73 L319.49,1616.76 L321.83,1615.79 L324.16,1614.83 L326.51,1613.88 L328.85,1612.94 L331.19,1612.01 L333.54,1611.09 L335.89,1610.18 L338.25,1609.28 L340.6,1608.38 L342.96,1607.5 L345.32,1606.63 L347.68,1605.76 L350.04,1604.9 L352.41,1604.06 L354.78,1603.22 L357.15,1602.39 L359.52,1601.57 L361.9,1600.75 L364.27,1599.95 L366.65,1599.16 L369.03,1598.37 L371.42,1597.59 L373.8,1596.82 L376.19,1596.06 L378.58,1595.3 L380.97,1594.56 L383.36,1593.82 L385.76,1593.09 L388.15,1592.37 L390.55,1591.65 L392.95,1590.94 L395.35,1590.24 L397.76,1589.55 L400.16,1588.87 L402.57,1588.19 L404.98,1587.52 L407.39,1586.86 L409.81,1586.21 L412.22,1585.56 L414.64,1584.92 L417.06,1584.29 L419.48,1583.66 L421.9,1583.04 L424.32,1582.43 L426.75,1581.82 L429.17,1581.22 L431.6,1580.63 L434.03,1580.05 L436.46,1579.47 L438.89,1578.89 L441.33,1578.33 L443.76,1577.77 L446.2,1577.21 L448.64,1576.66 L451.08,1576.12 L453.52,1575.59 L455.96,1575.06 L458.4,1574.53 L460.85,1574.02 L463.3,1573.5 L465.74,1573 L468.19,1572.5 L470.64,1572 L473.1,1571.51 L475.55,1571.03 L478,1570.55 L480.46,1570.07 L482.92,1569.6 L485.37,1569.14 L487.83,1568.68 L490.29,1568.23 L492.75,1567.78 L495.22,1567.34 L497.68,1566.9 L500.14,1566.46 L502.61,1566.03 L505.08,1565.61 L507.54,1565.19 L510.01,1564.77 L512.48,1564.36 L514.95,1563.95 L517.42,1563.55 L519.89,1563.15 L522.37,1562.76 L524.84,1562.37 L527.32,1561.98 L529.79,1561.6 L532.27,1561.22 L534.74,1560.84 L537.22,1560.47 L539.7,1560.1 L542.18,1559.74 L544.66,1559.38 L547.14,1559.02 L549.62,1558.67 L552.11,1558.32 L554.59,1557.97 L557.07,1557.62 L559.56,1557.28 L562.04,1556.94 L564.53,1556.61 L567.01,1556.28 L569.5,1555.95 L571.98,1555.62 L574.47,1555.3 L576.96,1554.98 L579.45,1554.66 L581.94,1554.34 L584.42,1554.03 L586.91,1553.71 L589.4,1553.41 L591.89,1553.1 L594.38,1552.79 L596.88,1552.49 L599.37,1552.19 L601.86,1551.89 L604.35,1551.59 L606.84,1551.3 L609.33,1551 L611.83,1550.71 L614.32,1550.42 L616.81,1550.13 L619.3,1549.84 L621.8,1549.56 L624.29,1549.27 L626.78,1548.99 L629.28,1548.71 L631.77,1548.43 L634.26,1548.15 L636.76,1547.87 L639.25,1547.59 L641.75,1547.32 L644.24,1547.05 L646.73,1546.77 L649.23,1546.5 L651.72,1546.23 L654.22,1545.96 L656.71,1545.7 L659.21,1545.43 L661.7,1545.17 L664.2,1544.9 L666.69,1544.64 L669.19,1544.38 L671.69,1544.12 L674.18,1543.86 L676.68,1543.61 L679.17,1543.35 L681.67,1543.1 L684.16,1542.85 L686.66,1542.59 L689.16,1542.34 L691.65,1542.1 L694.15,1541.85 L696.65,1541.6 L699.14,1541.36 L701.64,1541.11 L704.14,1540.87 L706.64,1540.63 L709.13,1540.39 L711.63,1540.15 L714.13,1539.92 L716.63,1539.68 L719.12,1539.45 L721.62,1539.21 L724.12,1538.98 L726.62,1538.75 L729.12,1538.52 L731.61,1538.29 L734.11,1538.07 L736.61,1537.84 L739.11,1537.62 L741.61,1537.39 L744.11,1537.17 L746.61,1536.95 L749.1,1536.73 L751.6,1536.51 L754.1,1536.3 L756.6,1536.08 L759.1,1535.87 L761.6,1535.65 L764.1,1535.44 L766.6,1535.23 L769.1,1535.02 L771.6,1534.81 L774.1,1534.61 L776.6,1534.4 L779.1,1534.2 L781.6,1533.99 L784.1,1533.79 L786.6,1533.59 L789.1,1533.39 L791.6,1533.19 L794.1,1533 L796.6,1532.8 L799.11,1532.6 L801.61,1532.41 L804.11,1532.22 L806.61,1532.03 L809.11,1531.84 L811.61,1531.65 L814.11,1531.46 L816.61,1531.27 L819.12,1531.09 L821.62,1530.91 L824.12,1530.72 L826.62,1530.54 L829.12,1530.36 L831.63,1530.18 L834.13,1530 L836.63,1529.83 L839.13,1529.65 L841.63,1529.48 L844.14,1529.3 L846.64,1529.13 L849.14,1528.96 L851.64,1528.79 L854.15,1528.62 L856.65,1528.45 L859.15,1528.28 L861.66,1528.12 L864.16,1527.96 L866.66,1527.79 L869.17,1527.63 L871.67,1527.47 L874.17,1527.31 L876.68,1527.15 L879.18,1526.99 L881.68,1526.84 L884.19,1526.68 L886.69,1526.53 L889.19,1526.37 L891.7,1526.22 L894.2,1526.07 L896.71,1525.92 L899.21,1525.77 L901.71,1525.63 L904.22,1525.48 L906.72,1525.33 L909.23,1525.19 L911.73,1525.05 L914.23,1524.91 L916.74,1524.76 L919.24,1524.62 L921.75,1524.49 L924.25,1524.35 L926.76,1524.21 L929.26,1524.08 L931.77,1523.94 L934.27,1523.81 L936.78,1523.68 L939.28,1523.55 L941.79,1523.42 L944.29,1523.29 L946.8,1523.16 L949.3,1523.03 L951.81,1522.91 L954.31,1522.78 L956.82,1522.66 L959.32,1522.53 L961.83,1522.41 L964.33,1522.29 L966.84,1522.17 L969.34,1522.05 L971.85,1521.94 L974.36,1521.82 L976.86,1521.71 L979.37,1521.59 L981.87,1521.48 L984.38,1521.37 L986.88,1521.25 L989.39,1521.14 L991.9,1521.04 L994.4,1520.93 L996.91,1520.82 L999.41,1520.71 L1001.92,1520.61 L1004.43,1520.5 L1006.93,1520.4 L1009.44,1520.3 L1011.95,1520.2 L1014.45,1520.1 L1016.96,1520 L1019.46,1519.9 L1021.97,1519.8 L1024.48,1519.71 L1026.98,1519.61 L1029.49,1519.52 L1032,1519.43 L1034.5,1519.33 L1037.01,1519.24 L1039.52,1519.15 L1042.02,1519.06 L1044.53,1518.98 L1047.04,1518.89 L1049.54,1518.8 L1052.05,1518.72 L1054.56,1518.63 L1057.06,1518.55 L1059.57,1518.47 L1062.08,1518.38 L1064.58,1518.3 L1067.09,1518.22 L1069.6,1518.15 L1072.1,1518.07 L1074.61,1517.99 L1077.12,1517.92 L1079.63,1517.84 L1082.13,1517.77 L1084.64,1517.69 L1087.15,1517.62 L1089.65,1517.55 L1092.16,1517.48 L1094.67,1517.41 L1097.17,1517.34 L1099.68,1517.28 L1102.19,1517.21 L1104.7,1517.14 L1107.2,1517.08 L1109.71,1517.02 L1112.22,1516.95 L1114.72,1516.89 L1117.23,1516.83 L1119.74,1516.77 L1122.25,1516.71 L1124.75,1516.65 L1127.26,1516.6 L1129.77,1516.54 L1132.28,1516.48 L1134.78,1516.43 L1137.29,1516.37 L1139.8,1516.32 L1142.3,1516.27 L1144.81,1516.22 L1147.32,1516.17 L1149.83,1516.12 L1152.33,1516.07 L1154.84,1516.02 L1157.35,1515.98 L1159.86,1515.93 L1162.36,1515.88 L1164.87,1515.84 L1167.38,1515.8 L1169.88,1515.75 L1172.39,1515.71 L1174.9,1515.67 L1177.41,1515.63 L1179.91,1515.59 L1182.42,1515.55 L1184.93,1515.52 L1187.44,1515.48 L1189.94,1515.44 L1192.45,1515.41 L1194.96,1515.38 L1197.46,1515.34 L1199.97,1515.31 L1202.48,1515.28 L1204.99,1515.25" stroke="#FF1A0A" stroke-width="3.85" stroke-dasharray="6.15 7.6" stroke-linecap="round"/>
<path d="M92.31,2122.57 L93.93,2120.72 L95.55,2118.86 L97.17,2117 L98.79,2115.13 L100.4,2113.27 L102.02,2111.4 L103.63,2109.53 L105.24,2107.65 L106.85,2105.78 L108.46,2103.9 L110.06,2102.02 L111.67,2100.13 L113.27,2098.25 L114.87,2096.36 L116.47,2094.47 L118.07,2092.57 L119.67,2090.68 L121.27,2088.78 L122.86,2086.88 L124.46,2084.98 L126.05,2083.08 L127.64,2081.17 L129.23,2079.27 L130.82,2077.36 L132.41,2075.45 L134,2073.54 L135.59,2071.62 L137.18,2069.71 L138.76,2067.79 L140.35,2065.87 L141.93,2063.96 L143.52,2062.03 L145.1,2060.11 L146.69,2058.19 L148.27,2056.26 L149.85,2054.34 L151.43,2052.41 L153.02,2050.48 L154.6,2048.55 L156.18,2046.62 L157.76,2044.69 L159.35,2042.75 L160.93,2040.82 L162.51,2038.89 L164.09,2036.95 L165.67,2035.01 L167.26,2033.08 L168.84,2031.14 L170.42,2029.2 L172.01,2027.26 L173.59,2025.32 L175.17,2023.38 L176.76,2021.44 L178.34,2019.5 L179.93,2017.56 L181.52,2015.62 L183.1,2013.67 L184.69,2011.73 L186.28,2009.79 L187.87,2007.84 L189.46,2005.9 L191.05,2003.96 L192.64,2002.01 L194.24,2000.07 L195.83,1998.13 L197.43,1996.18 L199.02,1994.24 L200.62,1992.3 L202.22,1990.36 L203.82,1988.41 L205.42,1986.47 L207.02,1984.53 L208.63,1982.59 L210.23,1980.65 L211.84,1978.71 L213.45,1976.77 L215.06,1974.83 L216.67,1972.89 L218.29,1970.95 L219.9,1969.01 L221.52,1967.08 L223.14,1965.14 L224.76,1963.21 L226.39,1961.27 L228.01,1959.34 L229.64,1957.41 L231.27,1955.48 L232.9,1953.55 L234.54,1951.62 L236.17,1949.69 L237.81,1947.76 L239.45,1945.84 L241.09,1943.91 L242.74,1941.99 L244.39,1940.07 L246.04,1938.15 L247.69,1936.23 L249.35,1934.31 L251.01,1932.4 L252.67,1930.48 L254.33,1928.57 L256,1926.66 L257.67,1924.75 L259.34,1922.85 L261.01,1920.94 L262.69,1919.04 L264.37,1917.14 L266.05,1915.24 L267.73,1913.34 L269.42,1911.44 L271.11,1909.55 L272.8,1907.66 L274.5,1905.77 L276.2,1903.88 L277.9,1902 L279.6,1900.12 L281.3,1898.24 L283.01,1896.36 L284.73,1894.49 L286.44,1892.62 L288.16,1890.75 L289.88,1888.88 L291.6,1887.01 L293.33,1885.15 L295.05,1883.29 L296.79,1881.44 L298.52,1879.58 L300.26,1877.73 L302,1875.89 L303.74,1874.04 L305.49,1872.2 L307.24,1870.36 L308.99,1868.53 L310.74,1866.7 L312.5,1864.87 L314.26,1863.04 L316.03,1861.22 L317.79,1859.4 L319.56,1857.58 L321.34,1855.77 L323.11,1853.96 L324.89,1852.16 L326.68,1850.36 L328.46,1848.56 L330.25,1846.76 L332.04,1844.97 L333.84,1843.19 L335.64,1841.4 L337.44,1839.62 L339.24,1837.85 L341.05,1836.08 L342.86,1834.31 L344.68,1832.55 L346.49,1830.79 L348.31,1829.03 L350.14,1827.28 L351.97,1825.53 L353.8,1823.79 L355.63,1822.05 L357.47,1820.32 L359.31,1818.59 L361.15,1816.86 L363,1815.14 L364.85,1813.42 L366.71,1811.71 L368.56,1810 L370.42,1808.3 L372.29,1806.6 L374.16,1804.91 L376.03,1803.22 L377.9,1801.54 L379.78,1799.86 L381.66,1798.19 L383.55,1796.52 L385.44,1794.85 L387.33,1793.2 L389.23,1791.54 L391.13,1789.89 L393.03,1788.25 L394.94,1786.61 L396.85,1784.98 L398.76,1783.35 L400.68,1781.73 L402.6,1780.11 L404.53,1778.5 L406.46,1776.9 L408.39,1775.3 L410.33,1773.7 L412.27,1772.11 L414.21,1770.53 L416.16,1768.95 L418.11,1767.38 L420.06,1765.82 L422.02,1764.26 L423.99,1762.7 L425.95,1761.16 L427.92,1759.61 L429.9,1758.08 L431.87,1756.55 L433.86,1755.02 L435.84,1753.51 L437.83,1752 L439.83,1750.49 L441.82,1748.99 L443.82,1747.5 L445.83,1746.02 L447.84,1744.54 L449.85,1743.06 L451.87,1741.6 L453.89,1740.14 L455.92,1738.68 L457.95,1737.24 L459.98,1735.8 L462.02,1734.37 L464.06,1732.94 L466.1,1731.52 L468.15,1730.11 L470.21,1728.7 L472.27,1727.31 L474.33,1725.92 L476.39,1724.53 L478.46,1723.16 L480.54,1721.79 L482.62,1720.42 L484.7,1719.07 L486.79,1717.72 L488.88,1716.38 L490.97,1715.05 L493.07,1713.72 L495.18,1712.4 L497.29,1711.09 L499.4,1709.79 L501.52,1708.5 L503.64,1707.21 L505.76,1705.93 L507.89,1704.66 L510.03,1703.39 L512.17,1702.14 L514.31,1700.89 L516.46,1699.65 L518.61,1698.42 L520.77,1697.19 L522.93,1695.97 L525.09,1694.77 L527.26,1693.56 L529.43,1692.37 L531.61,1691.18 L533.79,1690 L535.98,1688.83 L538.17,1687.67 L540.36,1686.51 L542.56,1685.36 L544.76,1684.22 L546.97,1683.09 L549.18,1681.96 L551.39,1680.84 L553.61,1679.73 L555.83,1678.63 L558.05,1677.53 L560.28,1676.44 L562.51,1675.36 L564.75,1674.28 L566.99,1673.21 L569.23,1672.15 L571.48,1671.1 L573.73,1670.05 L575.99,1669.01 L578.25,1667.97 L580.51,1666.95 L582.78,1665.93 L585.05,1664.92 L587.32,1663.91 L589.59,1662.91 L591.87,1661.92 L594.16,1660.94 L596.44,1659.96 L598.74,1658.99 L601.03,1658.02 L603.33,1657.06 L605.63,1656.11 L607.93,1655.17 L610.24,1654.23 L612.55,1653.3 L614.86,1652.37 L617.18,1651.45 L619.5,1650.54 L621.82,1649.64 L624.15,1648.74 L626.48,1647.84 L628.81,1646.96 L631.14,1646.08 L633.48,1645.2 L635.82,1644.34 L638.17,1643.48 L640.51,1642.62 L642.87,1641.77 L645.22,1640.93 L647.57,1640.09 L649.93,1639.26 L652.3,1638.44 L654.66,1637.62 L657.03,1636.81 L659.4,1636 L661.77,1635.2 L664.15,1634.41 L666.52,1633.62 L668.91,1632.83 L671.29,1632.06 L673.68,1631.29 L676.06,1630.52 L678.46,1629.76 L680.85,1629.01 L683.25,1628.26 L685.64,1627.52 L688.05,1626.78 L690.45,1626.05 L692.86,1625.32 L695.26,1624.6 L697.68,1623.89 L700.09,1623.18 L702.51,1622.48 L704.92,1621.78 L707.34,1621.09 L709.77,1620.4 L712.19,1619.72 L714.62,1619.04 L717.05,1618.37 L719.48,1617.7 L721.91,1617.04 L724.35,1616.39 L726.78,1615.74 L729.22,1615.09 L731.66,1614.45 L734.11,1613.82 L736.55,1613.19 L739,1612.56 L741.45,1611.94 L743.9,1611.33 L746.35,1610.72 L748.81,1610.11 L751.27,1609.51 L753.73,1608.92 L756.19,1608.33 L758.65,1607.74 L761.11,1607.16 L763.58,1606.58 L766.04,1606.01 L768.51,1605.44 L770.98,1604.88 L773.46,1604.32 L775.93,1603.77 L778.4,1603.22 L780.88,1602.68 L783.36,1602.14 L785.84,1601.61 L788.32,1601.07 L790.8,1600.55 L793.29,1600.03 L795.77,1599.51 L798.26,1599 L800.75,1598.49 L803.23,1597.98 L805.73,1597.48 L808.22,1596.99 L810.71,1596.5 L813.2,1596.01 L815.7,1595.53 L818.2,1595.05 L820.69,1594.57 L823.19,1594.1 L825.69,1593.63 L828.19,1593.17 L830.69,1592.71 L833.2,1592.25 L835.7,1591.8 L838.21,1591.35 L840.71,1590.91 L843.22,1590.47 L845.73,1590.04 L848.23,1589.6 L850.74,1589.17 L853.25,1588.75 L855.76,1588.33 L858.28,1587.91 L860.79,1587.5 L863.3,1587.09 L865.81,1586.68 L868.33,1586.27 L870.84,1585.87 L873.36,1585.48 L875.87,1585.09 L878.39,1584.7 L880.91,1584.31 L883.43,1583.93 L885.94,1583.55 L888.46,1583.17 L890.98,1582.8 L893.5,1582.43 L896.02,1582.06 L898.54,1581.7 L901.06,1581.34 L903.58,1580.98 L906.1,1580.62 L908.62,1580.27 L911.15,1579.93 L913.67,1579.58 L916.19,1579.24 L918.71,1578.9 L921.23,1578.56 L923.76,1578.23 L926.28,1577.9 L928.8,1577.57 L931.32,1577.25 L933.85,1576.92 L936.37,1576.6 L938.89,1576.29 L941.41,1575.97 L943.93,1575.66 L946.46,1575.35 L948.98,1575.05 L951.5,1574.74 L954.02,1574.44 L956.54,1574.14 L959.06,1573.85 L961.58,1573.55 L964.11,1573.26 L966.63,1572.97 L969.15,1572.69 L971.66,1572.4 L974.18,1572.12 L976.7,1571.84 L979.22,1571.56 L981.74,1571.29 L984.26,1571.01 L986.77,1570.74 L989.29,1570.47 L991.8,1570.21 L994.32,1569.94 L996.83,1569.68 L999.35,1569.42 L1001.86,1569.16 L1004.37,1568.9 L1006.89,1568.65 L1009.4,1568.4 L1011.91,1568.15 L1014.42,1567.9 L1016.92,1567.65 L1019.43,1567.4 L1021.94,1567.16 L1024.45,1566.92 L1026.95,1566.68 L1029.45,1566.44 L1031.96,1566.2 L1034.46,1565.97 L1036.96,1565.73 L1039.46,1565.5 L1041.96,1565.27 L1044.46,1565.04 L1046.95,1564.81 L1049.45,1564.58 L1051.95,1564.36 L1054.44,1564.14 L1056.93,1563.91 L1059.42,1563.69 L1061.91,1563.47 L1064.4,1563.25 L1066.89,1563.04 L1069.37,1562.82 L1071.86,1562.6 L1074.34,1562.39 L1076.82,1562.18 L1079.3,1561.97 L1081.78,1561.75 L1084.26,1561.54 L1086.73,1561.34 L1089.21,1561.13 L1091.68,1560.92 L1094.15,1560.72 L1096.62,1560.51 L1099.09,1560.31 L1101.55,1560.1 L1104.02,1559.9 L1106.48,1559.7 L1108.94,1559.5 L1111.4,1559.3 L1113.86,1559.1 L1116.31,1558.9 L1118.77,1558.7 L1121.22,1558.5 L1123.67,1558.3 L1126.12,1558.11 L1128.56,1557.91 L1131.01,1557.71 L1133.45,1557.52 L1135.89,1557.32 L1138.33,1557.13 L1140.77,1556.93 L1143.2,1556.74 L1145.63,1556.55 L1148.06,1556.35 L1150.49,1556.16 L1152.91,1555.97 L1155.34,1555.77 L1157.76,1555.58 L1160.18,1555.39 L1162.59,1555.2 L1165.01,1555 L1167.42,1554.81 L1169.83,1554.62 L1172.24,1554.43 L1174.64,1554.23 L1177.04,1554.04 L1179.44,1553.85 L1181.84,1553.66 L1184.24,1553.46 L1186.63,1553.27 L1189.02,1553.08 L1191.4,1552.88 L1193.79,1552.69 L1196.17,1552.49 L1198.55,1552.3 L1200.93,1552.1 L1203.3,1551.91 L1205.67,1551.71" stroke="#92DC4C" stroke-width="5.3" stroke-dasharray="15.1 21.1" stroke-linecap="round"/>
<path d="M90.84,2122.57 L91.93,2120.34 L93.03,2118.1 L94.14,2115.88 L95.27,2113.66 L96.4,2111.45 L97.55,2109.25 L98.71,2107.05 L99.89,2104.86 L101.07,2102.68 L102.27,2100.5 L103.47,2098.33 L104.69,2096.17 L105.92,2094.01 L107.16,2091.86 L108.41,2089.72 L109.67,2087.58 L110.94,2085.44 L112.22,2083.32 L113.51,2081.2 L114.81,2079.08 L116.12,2076.97 L117.44,2074.87 L118.77,2072.77 L120.11,2070.68 L121.46,2068.59 L122.82,2066.51 L124.19,2064.44 L125.56,2062.37 L126.95,2060.3 L128.34,2058.24 L129.74,2056.19 L131.15,2054.14 L132.57,2052.09 L134,2050.05 L135.43,2048.02 L136.88,2045.98 L138.33,2043.96 L139.79,2041.94 L141.25,2039.92 L142.72,2037.91 L144.2,2035.9 L145.69,2033.9 L147.19,2031.9 L148.69,2029.91 L150.2,2027.91 L151.71,2025.93 L153.23,2023.95 L154.76,2021.97 L156.29,2019.99 L157.83,2018.02 L159.38,2016.06 L160.93,2014.09 L162.49,2012.13 L164.05,2010.18 L165.62,2008.22 L167.19,2006.27 L168.77,2004.33 L170.35,2002.38 L171.94,2000.45 L173.53,1998.51 L175.13,1996.58 L176.73,1994.64 L178.34,1992.72 L179.95,1990.79 L181.56,1988.87 L183.18,1986.95 L184.81,1985.04 L186.43,1983.12 L188.06,1981.21 L189.7,1979.31 L191.34,1977.4 L192.99,1975.5 L194.63,1973.61 L196.29,1971.71 L197.94,1969.82 L199.6,1967.93 L201.27,1966.04 L202.93,1964.16 L204.61,1962.28 L206.28,1960.41 L207.96,1958.53 L209.65,1956.66 L211.33,1954.79 L213.02,1952.93 L214.72,1951.07 L216.42,1949.21 L218.12,1947.35 L219.82,1945.5 L221.53,1943.65 L223.24,1941.81 L224.96,1939.96 L226.68,1938.12 L228.4,1936.29 L230.13,1934.45 L231.86,1932.62 L233.59,1930.8 L235.32,1928.97 L237.06,1927.15 L238.81,1925.33 L240.55,1923.52 L242.3,1921.71 L244.05,1919.9 L245.81,1918.09 L247.56,1916.29 L249.33,1914.49 L251.09,1912.69 L252.86,1910.9 L254.63,1909.11 L256.4,1907.33 L258.17,1905.54 L259.95,1903.76 L261.73,1901.99 L263.52,1900.21 L265.3,1898.44 L267.09,1896.67 L268.88,1894.91 L270.68,1893.15 L272.48,1891.39 L274.28,1889.64 L276.08,1887.89 L277.88,1886.14 L279.69,1884.39 L281.5,1882.65 L283.31,1880.91 L285.13,1879.18 L286.94,1877.45 L288.76,1875.72 L290.59,1873.99 L292.41,1872.27 L294.24,1870.55 L296.07,1868.84 L297.9,1867.13 L299.74,1865.42 L301.58,1863.71 L303.42,1862.01 L305.26,1860.31 L307.1,1858.62 L308.95,1856.92 L310.8,1855.23 L312.66,1853.55 L314.51,1851.86 L316.37,1850.18 L318.23,1848.51 L320.09,1846.84 L321.96,1845.17 L323.83,1843.5 L325.7,1841.84 L327.57,1840.18 L329.45,1838.52 L331.32,1836.86 L333.21,1835.21 L335.09,1833.57 L336.97,1831.92 L338.86,1830.28 L340.75,1828.65 L342.65,1827.01 L344.54,1825.38 L346.44,1823.75 L348.34,1822.13 L350.24,1820.51 L352.15,1818.89 L354.06,1817.28 L355.97,1815.67 L357.88,1814.06 L359.8,1812.45 L361.72,1810.85 L363.64,1809.25 L365.56,1807.66 L367.49,1806.07 L369.41,1804.48 L371.35,1802.89 L373.28,1801.31 L375.21,1799.73 L377.15,1798.16 L379.09,1796.59 L381.04,1795.02 L382.98,1793.45 L384.93,1791.89 L386.88,1790.33 L388.83,1788.78 L390.79,1787.22 L392.75,1785.68 L394.71,1784.13 L396.67,1782.59 L398.64,1781.05 L400.6,1779.51 L402.57,1777.98 L404.55,1776.45 L406.52,1774.92 L408.5,1773.4 L410.48,1771.88 L412.46,1770.37 L414.45,1768.85 L416.43,1767.34 L418.42,1765.84 L420.42,1764.33 L422.41,1762.83 L424.41,1761.34 L426.41,1759.84 L428.41,1758.35 L430.41,1756.87 L432.42,1755.38 L434.43,1753.9 L436.44,1752.43 L438.46,1750.95 L440.47,1749.48 L442.49,1748.02 L444.51,1746.55 L446.54,1745.09 L448.56,1743.64 L450.59,1742.18 L452.62,1740.73 L454.66,1739.29 L456.69,1737.84 L458.73,1736.4 L460.77,1734.96 L462.82,1733.53 L464.86,1732.1 L466.91,1730.67 L468.96,1729.25 L471.01,1727.83 L473.07,1726.41 L475.12,1724.99 L477.18,1723.58 L479.24,1722.17 L481.31,1720.76 L483.37,1719.35 L485.43,1717.95 L487.5,1716.54 L489.57,1715.14 L491.64,1713.74 L493.71,1712.35 L495.78,1710.95 L497.86,1709.56 L499.93,1708.16 L502.01,1706.77 L504.09,1705.38 L506.16,1703.99 L508.24,1702.6 L510.32,1701.21 L512.4,1699.83 L514.48,1698.44 L516.57,1697.05 L518.65,1695.67 L520.73,1694.28 L522.81,1692.89 L524.89,1691.51 L526.98,1690.12 L529.06,1688.73 L531.14,1687.35 L533.23,1685.96 L535.31,1684.57 L537.39,1683.18 L539.48,1681.79 L541.56,1680.4 L543.64,1679.01 L545.72,1677.61 L547.8,1676.22 L549.88,1674.82 L551.96,1673.42 L554.04,1672.02 L556.12,1670.62 L558.2,1669.22 L560.27,1667.81 L562.35,1666.41 L564.42,1665 L566.49,1663.58 L568.56,1662.17 L570.63,1660.75 L572.7,1659.33 L574.77,1657.91 L576.83,1656.48 L578.9,1655.06 L580.96,1653.62 L583.02,1652.19 L585.08,1650.75 L587.13,1649.31 L589.19,1647.86 L591.24,1646.41 L593.29,1644.96 L595.34,1643.5 L597.39,1642.04 L599.43,1640.58 L601.47,1639.11 L603.51,1637.64 L605.55,1636.17 L607.59,1634.69 L609.62,1633.21 L611.66,1631.73 L613.69,1630.25 L615.72,1628.76 L617.75,1627.27 L619.78,1625.78 L621.81,1624.29 L623.83,1622.79 L625.86,1621.29 L627.88,1619.79 L629.91,1618.29 L631.93,1616.79 L633.95,1615.28 L635.97,1613.78 L637.99,1612.27 L640.01,1610.76 L642.02,1609.25 L644.04,1607.74 L646.06,1606.23 L648.07,1604.71 L650.09,1603.2 L652.1,1601.69 L654.12,1600.17 L656.13,1598.66 L658.15,1597.14 L660.16,1595.62 L662.17,1594.11 L664.19,1592.59 L666.2,1591.08 L668.22,1589.56 L670.23,1588.05 L672.24,1586.53 L674.26,1585.02 L676.27,1583.5 L678.29,1581.99 L680.3,1580.48 L682.32,1578.97 L684.34,1577.46 L686.35,1575.95 L688.37,1574.44 L690.39,1572.93 L692.41,1571.43 L694.43,1569.92 L696.45,1568.42 L698.47,1566.92 L700.49,1565.43 L702.51,1563.93 L704.54,1562.44 L706.56,1560.94 L708.59,1559.45 L710.62,1557.97 L712.65,1556.48 L714.68,1555 L716.71,1553.52 L718.75,1552.05 L720.78,1550.57 L722.82,1549.1 L724.86,1547.64 L726.9,1546.17 L728.94,1544.71 L730.98,1543.25 L733.03,1541.8 L735.07,1540.35 L737.12,1538.91 L739.18,1537.46 L741.23,1536.03 L743.29,1534.59 L745.34,1533.16 L747.4,1531.74 L749.47,1530.32 L751.53,1528.9 L753.6,1527.49 L755.67,1526.08 L757.74,1524.68 L759.82,1523.28 L761.9,1521.89 L763.98,1520.5 L766.06,1519.12 L768.15,1517.75 L770.24,1516.37 L772.33,1515.01 L774.42,1513.65 L776.52,1512.3 L778.62,1510.95 L780.73,1509.61 L782.84,1508.27 L784.95,1506.94 L787.06,1505.62 L789.18,1504.3 L791.3,1502.99 L793.43,1501.69 L795.55,1500.39 L797.69,1499.1 L799.82,1497.82 L801.96,1496.54 L804.11,1495.27 L806.25,1494.01 L808.41,1492.76 L810.56,1491.51 L812.72,1490.27 L814.88,1489.04 L817.05,1487.82 L819.22,1486.6 L821.4,1485.39 L823.58,1484.19 L825.77,1483 L827.96,1481.82 L830.15,1480.64 L832.35,1479.48 L834.55,1478.32 L836.76,1477.17 L838.97,1476.03 L841.19,1474.9 L843.41,1473.78 L845.64,1472.67 L847.87,1471.56 L850.11,1470.47 L852.35,1469.38 L854.6,1468.31 L856.85,1467.24 L859.1,1466.18 L861.36,1465.13 L863.63,1464.09 L865.9,1463.06 L868.17,1462.04 L870.45,1461.02 L872.74,1460.02 L875.02,1459.02 L877.32,1458.04 L879.61,1457.06 L881.91,1456.09 L884.22,1455.12 L886.53,1454.17 L888.84,1453.23 L891.15,1452.29 L893.48,1451.36 L895.8,1450.44 L898.13,1449.53 L900.46,1448.63 L902.8,1447.73 L905.14,1446.84 L907.48,1445.97 L909.83,1445.09 L912.18,1444.23 L914.53,1443.38 L916.89,1442.53 L919.25,1441.69 L921.62,1440.86 L923.99,1440.04 L926.36,1439.22 L928.73,1438.41 L931.11,1437.61 L933.49,1436.82 L935.88,1436.04 L938.26,1435.26 L940.65,1434.49 L943.05,1433.73 L945.44,1432.97 L947.84,1432.22 L950.25,1431.48 L952.65,1430.75 L955.06,1430.02 L957.47,1429.31 L959.88,1428.59 L962.3,1427.89 L964.72,1427.19 L967.14,1426.5 L969.56,1425.82 L971.99,1425.14 L974.42,1424.47 L976.85,1423.81 L979.28,1423.16 L981.71,1422.51 L984.15,1421.86 L986.59,1421.23 L989.03,1420.6 L991.47,1419.98 L993.92,1419.36 L996.37,1418.75 L998.82,1418.15 L1001.27,1417.56 L1003.72,1416.97 L1006.18,1416.38 L1008.63,1415.81 L1011.09,1415.24 L1013.55,1414.67 L1016.01,1414.11 L1018.48,1413.56 L1020.94,1413.01 L1023.41,1412.47 L1025.87,1411.94 L1028.34,1411.41 L1030.81,1410.89 L1033.28,1410.37 L1035.75,1409.86 L1038.23,1409.36 L1040.7,1408.86 L1043.18,1408.37 L1045.66,1407.88 L1048.13,1407.4 L1050.61,1406.92 L1053.09,1406.45 L1055.57,1405.99 L1058.05,1405.53 L1060.53,1405.07 L1063.02,1404.63 L1065.5,1404.18 L1067.98,1403.74 L1070.47,1403.31 L1072.95,1402.88 L1075.44,1402.46 L1077.92,1402.04 L1080.41,1401.63 L1082.89,1401.22 L1085.38,1400.82 L1087.87,1400.43 L1090.35,1400.03 L1092.84,1399.65 L1095.33,1399.26 L1097.82,1398.88 L1100.3,1398.51 L1102.79,1398.14 L1105.28,1397.78 L1107.76,1397.42 L1110.25,1397.07 L1112.74,1396.72 L1115.22,1396.37 L1117.71,1396.03 L1120.19,1395.69 L1122.68,1395.36 L1125.16,1395.03 L1127.64,1394.71 L1130.13,1394.39 L1132.61,1394.07 L1135.09,1393.76 L1137.57,1393.46 L1140.05,1393.15 L1142.53,1392.85 L1145.01,1392.56 L1147.49,1392.27 L1149.96,1391.98 L1152.44,1391.7 L1154.92,1391.42 L1157.39,1391.14 L1159.86,1390.87 L1162.33,1390.6 L1164.8,1390.34 L1167.27,1390.08 L1169.74,1389.82 L1172.2,1389.56 L1174.67,1389.31 L1177.13,1389.07 L1179.59,1388.82 L1182.05,1388.58 L1184.51,1388.34 L1186.97,1388.11 L1189.42,1387.88 L1191.87,1387.65 L1194.32,1387.43 L1196.77,1387.21" stroke="#C4561A" stroke-width="3.85" stroke-dasharray="23.85 13.92 0.01 13.92" stroke-linecap="round"/>
<path d="M92.4,2123.7 C92.93,2119.13 93.48,2115.25 94,2110 C94.7,2102.92 95.29,2093.71 96,2085 C96.78,2075.45 97.56,2062.93 98.5,2055 C99.12,2049.76 99.72,2045.27 100.5,2042 C100.99,2039.95 101.3,2038.32 102.1,2037.1 C102.73,2036.14 103.63,2035.39 104.5,2035 C105.28,2034.65 106.06,2034.54 107,2034.7 C108.37,2034.94 110.08,2036.25 111.8,2037.1 C113.8,2038.09 115.97,2039.51 118.3,2040.3 C120.78,2041.14 123.49,2041.74 126.3,2041.9 C129.37,2042.08 133.05,2041.6 136,2041.1 C138.54,2040.67 140.98,2039.92 143,2039.3 C144.59,2038.81 145.95,2038.31 147.2,2037.8 C148.24,2037.37 149.25,2037.13 150,2036.5 C150.74,2035.89 151.21,2035.46 151.7,2034.1 C153.27,2029.73 153.16,2013.77 153.9,2003.7 C154.63,1993.77 154.16,1980.09 156.1,1974.1 C157.05,1971.18 158.57,1968.1 159.8,1968.1 C161.03,1968.1 162.24,1971.59 163.5,1974.1 C165.4,1977.88 167.19,1984.02 169.4,1988.9 C171.65,1993.88 173.62,1999.46 176.9,2003.7 C180.09,2007.83 184.33,2011.16 188.7,2014.1 C193.18,2017.12 197.98,2019.21 203.5,2021.5 C210.07,2024.22 219.02,2026.8 225.7,2028.9 C231.14,2030.61 236.46,2032.47 240.6,2033.3 C243.46,2033.87 245.56,2033.61 248,2034.1 C250.49,2034.6 252.52,2035.37 255.4,2036.3 C259.5,2037.63 264.56,2039.72 270.2,2041.5 C277.56,2043.82 285.78,2046.4 295.9,2048.7 C310.13,2051.93 330.46,2055.41 347.8,2057.8 C365.03,2060.17 380.57,2061.48 399.6,2063 C422.89,2064.86 451.46,2066.52 477.4,2067.6 C503.32,2068.68 530.45,2068.91 555.2,2069.5 C577.79,2070.04 597.62,2070.64 620,2071 C644.04,2071.39 668.39,2071.41 694.8,2071.7 C724.53,2072.03 755.49,2072.47 789.6,2072.9 C829.61,2073.4 867.89,2074.01 920,2074.5 C997.98,2075.23 1114.67,2075.77 1212,2076.4" stroke="#C0140F" stroke-width="3.7"/>
<path d="M92.5,2123.4 C93,2118.93 93.48,2114.58 94,2110 C94.55,2105.19 95.07,2101.09 95.7,2095.2 C96.63,2086.51 98.05,2072.41 98.9,2062.9 C99.57,2055.38 99.83,2048.18 100.5,2042.7 C100.97,2038.9 101.1,2035.29 102.1,2033.1 C102.72,2031.74 103.59,2030.72 104.5,2030.2 C105.23,2029.78 105.97,2029.72 106.9,2029.8 C108.26,2029.91 110.1,2030.69 111.8,2031.5 C113.87,2032.48 116.1,2033.85 118.3,2035.5 C120.92,2037.46 123.48,2040.26 126.3,2042.7 C129.35,2045.35 132.8,2048.56 136,2050.8 C138.79,2052.75 141.05,2054.12 144.3,2055.6 C148.45,2057.49 153.61,2059.21 159.1,2060.7 C165.7,2062.5 173.88,2063.96 181.3,2065.2 C188.68,2066.43 195.56,2067.27 203.5,2068.1 C212.65,2069.05 221.85,2069.89 233.1,2070.4 C247.98,2071.08 264.3,2070.94 285,2071.1 C315.81,2071.33 356.4,2071.4 400,2071.3 C457.5,2071.16 539.03,2070.24 600,2070 C651.38,2069.8 692,2069.96 742,2069.8 C797.99,2069.62 853.36,2068.97 920,2068.9 C1005.35,2068.82 1114.67,2069.5 1212,2069.8" stroke="#7030A0" stroke-width="3.5"/>
<path d="M92.5,2124 L92.54,2121.5 L92.58,2118.99 L92.63,2116.48 L92.67,2113.98 L92.71,2111.47 L92.75,2108.97 L92.79,2106.46 L92.83,2103.95 L92.87,2101.45 L92.91,2098.94 L92.95,2096.44 L92.99,2093.94 L93.03,2091.43 L93.07,2088.93 L93.11,2086.42 L93.15,2083.92 L93.18,2081.41 L93.22,2078.91 L93.26,2076.41 L93.29,2073.9 L93.33,2071.4 L93.37,2068.9 L93.4,2066.39 L93.44,2063.89 L93.48,2061.39 L93.51,2058.88 L93.55,2056.38 L93.58,2053.88 L93.62,2051.38 L93.65,2048.87 L93.69,2046.37 L93.72,2043.87 L93.76,2041.37 L93.79,2038.87 L93.82,2036.36 L93.86,2033.86 L93.89,2031.36 L93.92,2028.86 L93.96,2026.36 L93.99,2023.86 L94.02,2021.35 L94.06,2018.85 L94.09,2016.35 L94.12,2013.85 L94.15,2011.35 L94.19,2008.85 L94.22,2006.35 L94.25,2003.85 L94.28,2001.34 L94.31,1998.84 L94.34,1996.34 L94.38,1993.84 L94.41,1991.34 L94.44,1988.84 L94.47,1986.34 L94.5,1983.84 L94.53,1981.34 L94.56,1978.84 L94.6,1976.34 L94.63,1973.84 L94.66,1971.34 L94.69,1968.84 L94.72,1966.34 L94.75,1963.84 L94.78,1961.33 L94.81,1958.83 L94.84,1956.33 L94.87,1953.83 L94.9,1951.33 L94.94,1948.83 L94.97,1946.33 L95,1943.83 L95.03,1941.33 L95.06,1938.83 L95.09,1936.33 L95.12,1933.83 L95.15,1931.33 L95.18,1928.83 L95.21,1926.33 L95.25,1923.83 L95.28,1921.33 L95.31,1918.83 L95.34,1916.33 L95.37,1913.83 L95.4,1911.32 L95.43,1908.82 L95.47,1906.32 L95.5,1903.82 L95.53,1901.32 L95.56,1898.82 L95.59,1896.32 L95.63,1893.82 L95.66,1891.32 L95.69,1888.82 L95.72,1886.31 L95.76,1883.81 L95.79,1881.31 L95.82,1878.81 L95.85,1876.31 L95.89,1873.81 L95.92,1871.31 L95.95,1868.8 L95.99,1866.3 L96.02,1863.8 L96.06,1861.3 L96.09,1858.8 L96.13,1856.29 L96.16,1853.79 L96.2,1851.29 L96.23,1848.79 L96.27,1846.28 L96.3,1843.78 L96.34,1841.28 L96.37,1838.77 L96.41,1836.27 L96.45,1833.77 L96.48,1831.26 L96.52,1828.76 L96.56,1826.26 L96.59,1823.75 L96.63,1821.25 L96.67,1818.74 L96.71,1816.24 L96.75,1813.74 L96.79,1811.23 L96.83,1808.73 L96.87,1806.22 L96.91,1803.72 L96.95,1801.21 L96.99,1798.71 L97.03,1796.2 L97.07,1793.7 L97.11,1791.19 L97.15,1788.68 L97.19,1786.18 L97.24,1783.67 L97.28,1781.16 L97.32,1778.66 L97.36,1776.15 L97.41,1773.64 L97.45,1771.14 L97.5,1768.63 L97.54,1766.12 L97.59,1763.61 L97.63,1761.11 L97.68,1758.6 L97.73,1756.09 L97.78,1753.58 L97.82,1751.07 L97.87,1748.57 L97.92,1746.06 L97.98,1743.55 L98.03,1741.04 L98.08,1738.53 L98.14,1736.03 L98.19,1733.52 L98.25,1731.01 L98.31,1728.5 L98.37,1725.99 L98.43,1723.49 L98.49,1720.98 L98.56,1718.47 L98.62,1715.97 L98.69,1713.46 L98.76,1710.95 L98.83,1708.45 L98.91,1705.94 L98.98,1703.44 L99.06,1700.93 L99.14,1698.43 L99.22,1695.93 L99.31,1693.42 L99.39,1690.92 L99.48,1688.42 L99.57,1685.91 L99.66,1683.41 L99.76,1680.91 L99.86,1678.41 L99.96,1675.91 L100.06,1673.41 L100.17,1670.92 L100.28,1668.42 L100.39,1665.92 L100.51,1663.43 L100.63,1660.93 L100.75,1658.43 L100.87,1655.94 L101,1653.45 L101.13,1650.96 L101.27,1648.46 L101.41,1645.97 L101.55,1643.48 L101.69,1640.99 L101.84,1638.51 L101.99,1636.02 L102.15,1633.53 L102.31,1631.05 L102.47,1628.57 L102.64,1626.08 L102.81,1623.6 L102.98,1621.12 L103.15,1618.64 L103.33,1616.15 L103.51,1613.67 L103.68,1611.19 L103.86,1608.71 L104.04,1606.23 L104.22,1603.75 L104.4,1601.26 L104.58,1598.78 L104.76,1596.3 L104.94,1593.81 L105.12,1591.33 L105.29,1588.84 L105.47,1586.35 L105.64,1583.86 L105.81,1581.37 L105.97,1578.88 L106.13,1576.38 L106.29,1573.89 L106.45,1571.39 L106.6,1568.89 L106.74,1566.39 L106.88,1563.88 L107.02,1561.37 L107.15,1558.86 L107.27,1556.35 L107.39,1553.84 L107.5,1551.32 L107.61,1548.8 L107.7,1546.27 L107.79,1543.74 L107.88,1541.21 L107.95,1538.68 L108.02,1536.14 L108.07,1533.6 L108.12,1531.05 L108.16,1528.5 L108.19,1525.94 L108.21,1523.38 L108.21,1520.82 L108.22,1518.25 L108.23,1515.69 L108.27,1513.12 L108.33,1510.57 L108.45,1508.02 L108.63,1505.48 L108.89,1502.97 L109.23,1500.47 L109.67,1497.99 L110.23,1495.54 L110.92,1493.12 L111.75,1490.73 L112.73,1488.38 L113.88,1486.07 L115.22,1483.8 L116.75,1481.57 L118.46,1479.48 L120.19,1478.11 L121.73,1478.22 L123.01,1479.88 L124.1,1482.5 L125.09,1485.45 L126.04,1488.27 L126.96,1490.95 L127.85,1493.5 L128.71,1495.94 L129.55,1498.31 L130.35,1500.62 L131.14,1502.9 L131.9,1505.18 L132.65,1507.46 L133.38,1509.75 L134.1,1512.05 L134.8,1514.35 L135.51,1516.66 L136.21,1518.98 L136.91,1521.31 L137.61,1523.64 L138.32,1525.97 L139.04,1528.32 L139.76,1530.66 L140.48,1533.01 L141.22,1535.37 L141.95,1537.73 L142.7,1540.09 L143.44,1542.46 L144.2,1544.83 L144.95,1547.2 L145.72,1549.58 L146.49,1551.96 L147.26,1554.34 L148.04,1556.73 L148.82,1559.12 L149.61,1561.51 L150.4,1563.9 L151.2,1566.29 L152,1568.68 L152.8,1571.08 L153.62,1573.47 L154.43,1575.87 L155.25,1578.27 L156.07,1580.66 L156.9,1583.06 L157.74,1585.46 L158.57,1587.85 L159.41,1590.25 L160.26,1592.64 L161.11,1595.03 L161.96,1597.43 L162.82,1599.81 L163.68,1602.2 L164.54,1604.59 L165.41,1606.97 L166.28,1609.35 L167.15,1611.73 L168.03,1614.1 L168.92,1616.47 L169.8,1618.84 L170.69,1621.2 L171.58,1623.56 L172.48,1625.92 L173.38,1628.27 L174.28,1630.62 L175.18,1632.96 L176.09,1635.29 L177,1637.62 L177.92,1639.95 L178.83,1642.27 L179.75,1644.59 L180.68,1646.9 L181.6,1649.21 L182.53,1651.51 L183.47,1653.81 L184.4,1656.1 L185.34,1658.4 L186.29,1660.68 L187.23,1662.97 L188.18,1665.25 L189.14,1667.53 L190.09,1669.8 L191.05,1672.08 L192.02,1674.35 L192.99,1676.61 L193.96,1678.88 L194.93,1681.14 L195.91,1683.4 L196.89,1685.66 L197.88,1687.92 L198.87,1690.18 L199.86,1692.43 L200.86,1694.69 L201.86,1696.94 L202.87,1699.19 L203.88,1701.44 L204.89,1703.69 L205.91,1705.94 L206.93,1708.19 L207.96,1710.44 L208.99,1712.69 L210.02,1714.94 L211.06,1717.19 L212.11,1719.44 L213.15,1721.69 L214.21,1723.94 L215.26,1726.2 L216.32,1728.45 L217.39,1730.71 L218.46,1732.96 L219.53,1735.22 L220.61,1737.48 L221.69,1739.74 L222.78,1741.99 L223.88,1744.25 L224.98,1746.51 L226.08,1748.77 L227.19,1751.02 L228.3,1753.28 L229.42,1755.54 L230.55,1757.79 L231.68,1760.04 L232.81,1762.3 L233.96,1764.55 L235.1,1766.8 L236.26,1769.04 L237.42,1771.29 L238.58,1773.53 L239.75,1775.78 L240.93,1778.02 L242.12,1780.25 L243.31,1782.49 L244.5,1784.72 L245.71,1786.95 L246.91,1789.17 L248.13,1791.4 L249.35,1793.62 L250.58,1795.83 L251.82,1798.05 L253.06,1800.25 L254.31,1802.46 L255.57,1804.66 L256.83,1806.86 L258.11,1809.05 L259.38,1811.23 L260.67,1813.42 L261.96,1815.59 L263.27,1817.77 L264.57,1819.93 L265.89,1822.1 L267.22,1824.25 L268.55,1826.4 L269.89,1828.55 L271.23,1830.69 L272.59,1832.82 L273.96,1834.95 L275.33,1837.07 L276.71,1839.18 L278.1,1841.29 L279.49,1843.39 L280.9,1845.48 L282.32,1847.57 L283.74,1849.65 L285.17,1851.72 L286.61,1853.78 L288.06,1855.84 L289.52,1857.89 L290.99,1859.93 L292.47,1861.96 L293.95,1863.98 L295.45,1866 L296.95,1868 L298.47,1870 L299.99,1871.99 L301.52,1873.97 L303.07,1875.94 L304.62,1877.9 L306.18,1879.85 L307.76,1881.79 L309.34,1883.72 L310.93,1885.64 L312.53,1887.55 L314.15,1889.45 L315.77,1891.34 L317.4,1893.22 L319.05,1895.09 L320.7,1896.95 L322.37,1898.8 L324.04,1900.63 L325.73,1902.45 L327.43,1904.27 L329.14,1906.07 L330.86,1907.85 L332.59,1909.63 L334.33,1911.39 L336.08,1913.15 L337.85,1914.89 L339.62,1916.61 L341.41,1918.33 L343.21,1920.03 L345.02,1921.72 L346.84,1923.4 L348.67,1925.06 L350.51,1926.72 L352.36,1928.36 L354.22,1929.99 L356.09,1931.6 L357.97,1933.21 L359.87,1934.8 L361.77,1936.38 L363.68,1937.95 L365.6,1939.51 L367.54,1941.05 L369.48,1942.59 L371.43,1944.11 L373.39,1945.62 L375.36,1947.12 L377.34,1948.6 L379.33,1950.08 L381.33,1951.54 L383.34,1952.99 L385.35,1954.43 L387.38,1955.86 L389.41,1957.28 L391.45,1958.69 L393.5,1960.08 L395.56,1961.47 L397.63,1962.84 L399.71,1964.2 L401.79,1965.55 L403.89,1966.89 L405.99,1968.22 L408.1,1969.54 L410.21,1970.84 L412.34,1972.14 L414.47,1973.42 L416.61,1974.7 L418.76,1975.96 L420.91,1977.21 L423.07,1978.45 L425.24,1979.68 L427.42,1980.9 L429.6,1982.11 L431.79,1983.31 L433.99,1984.5 L436.19,1985.67 L438.4,1986.84 L440.62,1988 L442.85,1989.14 L445.08,1990.28 L447.31,1991.4 L449.55,1992.52 L451.8,1993.62 L454.06,1994.72 L456.32,1995.8 L458.59,1996.88 L460.86,1997.94 L463.14,1999 L465.42,2000.04 L467.71,2001.07 L470,2002.1 L472.3,2003.11 L474.61,2004.12 L476.92,2005.11 L479.23,2006.1 L481.55,2007.07 L483.88,2008.04 L486.21,2009 L488.54,2009.94 L490.88,2010.88 L493.22,2011.81 L495.57,2012.72 L497.92,2013.63 L500.28,2014.53 L502.64,2015.42 L505,2016.3 L507.37,2017.17 L509.74,2018.04 L512.12,2018.89 L514.5,2019.73 L516.88,2020.57 L519.27,2021.39 L521.66,2022.21 L524.05,2023.01 L526.45,2023.81 L528.85,2024.6 L531.25,2025.38 L533.65,2026.15 L536.06,2026.92 L538.47,2027.67 L540.89,2028.42 L543.3,2029.15 L545.72,2029.88 L548.14,2030.6 L550.56,2031.31 L552.99,2032.01 L555.41,2032.71 L557.84,2033.39 L560.28,2034.07 L562.71,2034.74 L565.14,2035.4 L567.58,2036.05 L570.02,2036.7 L572.46,2037.33 L574.9,2037.96 L577.34,2038.58 L579.78,2039.19 L582.22,2039.79 L584.67,2040.39 L587.11,2040.97 L589.56,2041.55 L592.01,2042.12 L594.46,2042.69 L596.91,2043.24 L599.35,2043.79 L601.8,2044.33 L604.26,2044.87 L606.71,2045.39 L609.16,2045.91 L611.61,2046.42 L614.06,2046.93 L616.52,2047.42 L618.97,2047.91 L621.43,2048.4 L623.88,2048.88 L626.34,2049.35 L628.8,2049.81 L631.26,2050.27 L633.71,2050.72 L636.17,2051.17 L638.63,2051.6 L641.09,2052.04 L643.55,2052.46 L646.01,2052.89 L648.48,2053.3 L650.94,2053.71 L653.4,2054.12 L655.87,2054.52 L658.33,2054.91 L660.8,2055.3 L663.26,2055.68 L665.73,2056.06 L668.19,2056.43 L670.66,2056.8 L673.13,2057.16 L675.6,2057.52 L678.06,2057.88 L680.53,2058.23 L683,2058.57 L685.47,2058.91 L687.94,2059.25 L690.42,2059.58 L692.89,2059.91 L695.36,2060.24 L697.83,2060.56 L700.31,2060.87 L702.78,2061.19 L705.25,2061.5 L707.73,2061.8 L710.2,2062.11 L712.68,2062.41 L715.16,2062.7 L717.63,2063 L720.11,2063.29 L722.59,2063.58 L725.06,2063.86 L727.54,2064.14 L730.02,2064.42 L732.5,2064.7 L734.98,2064.97 L737.46,2065.24 L739.94,2065.51 L742.42,2065.78 L744.9,2066.05 L747.39,2066.31 L749.87,2066.57 L752.35,2066.83 L754.83,2067.09 L757.32,2067.35 L759.8,2067.6 L762.29,2067.86 L764.77,2068.11 L767.26,2068.36 L769.74,2068.61 L772.23,2068.86 L774.71,2069.11 L777.2,2069.35 L779.69,2069.6 L782.17,2069.84 L784.66,2070.08 L787.15,2070.32 L789.64,2070.56 L792.13,2070.8 L794.61,2071.03 L797.1,2071.27 L799.59,2071.5 L802.08,2071.73 L804.57,2071.96 L807.06,2072.19 L809.55,2072.42 L812.05,2072.65 L814.54,2072.88 L817.03,2073.1 L819.52,2073.32 L822.01,2073.54 L824.51,2073.76 L827,2073.98 L829.49,2074.2 L831.99,2074.42 L834.48,2074.63 L836.97,2074.85 L839.47,2075.06 L841.96,2075.27 L844.46,2075.48 L846.95,2075.69 L849.45,2075.9 L851.94,2076.1 L854.44,2076.31 L856.94,2076.51 L859.43,2076.72 L861.93,2076.92 L864.42,2077.12 L866.92,2077.32 L869.42,2077.52 L871.92,2077.71 L874.41,2077.91 L876.91,2078.1 L879.41,2078.29 L881.91,2078.49 L884.41,2078.68 L886.91,2078.87 L889.4,2079.06 L891.9,2079.24 L894.4,2079.43 L896.9,2079.61 L899.4,2079.8 L901.9,2079.98 L904.4,2080.16 L906.9,2080.34 L909.4,2080.52 L911.9,2080.7 L914.4,2080.87 L916.9,2081.05 L919.4,2081.22 L921.9,2081.4 L924.41,2081.57 L926.91,2081.74 L929.41,2081.91 L931.91,2082.08 L934.41,2082.25 L936.91,2082.41 L939.42,2082.58 L941.92,2082.74 L944.42,2082.91 L946.92,2083.07 L949.42,2083.23 L951.93,2083.39 L954.43,2083.55 L956.93,2083.71 L959.43,2083.87 L961.94,2084.02 L964.44,2084.18 L966.94,2084.33 L969.44,2084.48 L971.95,2084.63 L974.45,2084.79 L976.95,2084.94 L979.46,2085.08 L981.96,2085.23 L984.46,2085.38 L986.97,2085.52 L989.47,2085.67 L991.97,2085.81 L994.48,2085.95 L996.98,2086.1 L999.48,2086.24 L1001.99,2086.38 L1004.49,2086.51 L1006.99,2086.65 L1009.5,2086.79 L1012,2086.92 L1014.5,2087.06 L1017.01,2087.19 L1019.51,2087.33 L1022.01,2087.46 L1024.52,2087.59 L1027.02,2087.72 L1029.52,2087.85 L1032.03,2087.98 L1034.53,2088.1 L1037.03,2088.23 L1039.54,2088.35 L1042.04,2088.48 L1044.54,2088.6 L1047.05,2088.72 L1049.55,2088.85 L1052.05,2088.97 L1054.56,2089.09 L1057.06,2089.21 L1059.56,2089.32 L1062.06,2089.44 L1064.57,2089.56 L1067.07,2089.67 L1069.57,2089.79 L1072.07,2089.9 L1074.58,2090.01 L1077.08,2090.12 L1079.58,2090.24 L1082.08,2090.35 L1084.58,2090.45 L1087.09,2090.56 L1089.59,2090.67 L1092.09,2090.78 L1094.59,2090.88 L1097.09,2090.99 L1099.59,2091.09 L1102.09,2091.2 L1104.59,2091.3 L1107.1,2091.4 L1109.6,2091.5 L1112.1,2091.6 L1114.6,2091.7 L1117.1,2091.8 L1119.6,2091.9 L1122.1,2092 L1124.6,2092.09 L1127.09,2092.19 L1129.59,2092.28 L1132.09,2092.38 L1134.59,2092.47 L1137.09,2092.56 L1139.59,2092.65 L1142.09,2092.74 L1144.59,2092.83 L1147.08,2092.92 L1149.58,2093.01 L1152.08,2093.1 L1154.58,2093.19 L1157.07,2093.27 L1159.57,2093.36 L1162.07,2093.44 L1164.56,2093.53 L1167.06,2093.61 L1169.55,2093.7 L1172.05,2093.78 L1174.54,2093.86 L1177.04,2093.94 L1179.53,2094.02 L1182.03,2094.1 L1184.52,2094.18 L1187.02,2094.26 L1189.51,2094.33 L1192,2094.41 L1194.5,2094.49 L1196.99,2094.56 L1199.48,2094.64 L1201.98,2094.71 L1204.47,2094.78 L1206.96,2094.86 L1209.45,2094.93 L1211.94,2095" stroke="#FF1A0A" stroke-width="3.5"/>
<path d="M92.5,2124 L92.59,2121.5 L92.68,2119 L92.77,2116.5 L92.85,2114 L92.94,2111.49 L93.02,2108.99 L93.1,2106.49 L93.19,2103.99 L93.27,2101.49 L93.35,2098.99 L93.42,2096.49 L93.5,2093.98 L93.58,2091.48 L93.65,2088.98 L93.73,2086.48 L93.8,2083.98 L93.87,2081.48 L93.95,2078.98 L94.02,2076.48 L94.09,2073.98 L94.16,2071.47 L94.22,2068.97 L94.29,2066.47 L94.36,2063.97 L94.42,2061.47 L94.49,2058.97 L94.55,2056.47 L94.61,2053.97 L94.68,2051.46 L94.74,2048.96 L94.8,2046.46 L94.86,2043.96 L94.92,2041.46 L94.98,2038.96 L95.04,2036.46 L95.09,2033.96 L95.15,2031.46 L95.21,2028.96 L95.26,2026.45 L95.32,2023.95 L95.37,2021.45 L95.43,2018.95 L95.48,2016.45 L95.53,2013.95 L95.59,2011.45 L95.64,2008.95 L95.69,2006.45 L95.74,2003.95 L95.79,2001.44 L95.84,1998.94 L95.89,1996.44 L95.94,1993.94 L95.98,1991.44 L96.03,1988.94 L96.08,1986.44 L96.13,1983.94 L96.17,1981.44 L96.22,1978.94 L96.27,1976.44 L96.31,1973.93 L96.36,1971.43 L96.4,1968.93 L96.45,1966.43 L96.49,1963.93 L96.54,1961.43 L96.58,1958.93 L96.62,1956.43 L96.67,1953.93 L96.71,1951.43 L96.75,1948.93 L96.79,1946.42 L96.84,1943.92 L96.88,1941.42 L96.92,1938.92 L96.96,1936.42 L97.01,1933.92 L97.05,1931.42 L97.09,1928.92 L97.13,1926.42 L97.17,1923.92 L97.22,1921.42 L97.26,1918.91 L97.3,1916.41 L97.34,1913.91 L97.38,1911.41 L97.42,1908.91 L97.46,1906.41 L97.51,1903.91 L97.55,1901.41 L97.59,1898.91 L97.63,1896.41 L97.67,1893.91 L97.71,1891.4 L97.76,1888.9 L97.8,1886.4 L97.84,1883.9 L97.88,1881.4 L97.93,1878.9 L97.97,1876.4 L98.01,1873.9 L98.06,1871.4 L98.1,1868.9 L98.14,1866.39 L98.19,1863.89 L98.23,1861.39 L98.28,1858.89 L98.32,1856.39 L98.37,1853.89 L98.41,1851.39 L98.46,1848.89 L98.5,1846.39 L98.55,1843.88 L98.6,1841.38 L98.64,1838.88 L98.69,1836.38 L98.74,1833.88 L98.79,1831.38 L98.84,1828.88 L98.89,1826.38 L98.94,1823.88 L98.99,1821.37 L99.04,1818.87 L99.09,1816.37 L99.14,1813.87 L99.19,1811.37 L99.25,1808.87 L99.3,1806.37 L99.36,1803.87 L99.41,1801.37 L99.47,1798.86 L99.52,1796.36 L99.58,1793.86 L99.64,1791.36 L99.69,1788.86 L99.75,1786.36 L99.81,1783.86 L99.87,1781.35 L99.93,1778.85 L99.99,1776.35 L100.06,1773.85 L100.12,1771.35 L100.18,1768.85 L100.25,1766.35 L100.31,1763.85 L100.38,1761.34 L100.45,1758.84 L100.52,1756.34 L100.58,1753.84 L100.65,1751.34 L100.72,1748.84 L100.8,1746.33 L100.87,1743.83 L100.94,1741.33 L101.01,1738.83 L101.09,1736.33 L101.17,1733.83 L101.24,1731.33 L101.32,1728.82 L101.4,1726.32 L101.48,1723.82 L101.56,1721.32 L101.64,1718.82 L101.73,1716.32 L101.81,1713.81 L101.89,1711.31 L101.98,1708.81 L102.07,1706.31 L102.16,1703.81 L102.24,1701.31 L102.33,1698.8 L102.43,1696.3 L102.52,1693.8 L102.61,1691.3 L102.7,1688.8 L102.8,1686.3 L102.9,1683.8 L102.99,1681.3 L103.09,1678.79 L103.19,1676.29 L103.29,1673.79 L103.39,1671.29 L103.5,1668.79 L103.6,1666.29 L103.71,1663.79 L103.81,1661.29 L103.92,1658.79 L104.03,1656.29 L104.14,1653.79 L104.25,1651.29 L104.36,1648.79 L104.47,1646.29 L104.59,1643.79 L104.7,1641.29 L104.82,1638.79 L104.94,1636.29 L105.06,1633.79 L105.18,1631.29 L105.3,1628.79 L105.42,1626.29 L105.55,1623.79 L105.67,1621.29 L105.8,1618.79 L105.93,1616.29 L106.05,1613.79 L106.18,1611.29 L106.32,1608.8 L106.45,1606.3 L106.58,1603.8 L106.72,1601.3 L106.85,1598.8 L106.99,1596.31 L107.13,1593.81 L107.27,1591.31 L107.41,1588.81 L107.56,1586.32 L107.7,1583.82 L107.84,1581.32 L107.99,1578.83 L108.14,1576.33 L108.29,1573.83 L108.44,1571.34 L108.59,1568.84 L108.75,1566.35 L108.9,1563.85 L109.06,1561.36 L109.22,1558.86 L109.37,1556.37 L109.53,1553.87 L109.7,1551.38 L109.86,1548.88 L110.02,1546.39 L110.19,1543.89 L110.36,1541.4 L110.53,1538.91 L110.7,1536.41 L110.87,1533.92 L111.04,1531.43 L111.22,1528.94 L111.39,1526.44 L111.57,1523.95 L111.75,1521.46 L111.93,1518.97 L112.11,1516.48 L112.3,1513.99 L112.48,1511.5 L112.67,1509.01 L112.85,1506.52 L113.04,1504.03 L113.24,1501.54 L113.43,1499.05 L113.62,1496.56 L113.82,1494.07 L114.01,1491.58 L114.21,1489.09 L114.41,1486.6 L114.61,1484.12 L114.82,1481.63 L115.02,1479.14 L115.23,1476.65 L115.44,1474.17 L115.65,1471.68 L115.86,1469.19 L116.07,1466.7 L116.29,1464.22 L116.5,1461.73 L116.72,1459.24 L116.94,1456.75 L117.16,1454.26 L117.38,1451.77 L117.61,1449.28 L117.84,1446.79 L118.06,1444.29 L118.29,1441.8 L118.53,1439.31 L118.76,1436.81 L119,1434.31 L119.23,1431.81 L119.47,1429.31 L119.71,1426.81 L119.96,1424.31 L120.2,1421.8 L120.45,1419.3 L120.7,1416.79 L120.95,1414.28 L121.2,1411.77 L121.46,1409.25 L121.71,1406.74 L121.97,1404.22 L122.23,1401.7 L122.5,1399.18 L122.76,1396.67 L123.03,1394.15 L123.31,1391.65 L123.59,1389.14 L123.87,1386.65 L124.15,1384.16 L124.44,1381.68 L124.74,1379.21 L125.04,1376.75 L125.35,1374.3 L125.66,1371.87 L125.98,1369.45 L126.31,1367.05 L126.64,1364.66 L126.98,1362.29 L127.34,1359.91 L127.71,1357.53 L128.09,1355.15 L128.49,1352.74 L128.92,1350.31 L129.37,1347.85 L129.84,1345.36 L130.35,1342.82 L130.88,1340.23 L131.45,1337.58 L132.06,1334.88 L132.77,1332.15 L133.64,1329.41 L134.71,1326.7 L136.03,1324.13 L137.6,1321.95 L139.42,1320.41 L141.46,1319.68 L143.64,1319.66 L145.85,1320.22 L148.01,1321.22 L150.02,1322.54 L151.84,1324.08 L153.49,1325.83 L155,1327.74 L156.38,1329.79 L157.66,1331.96 L158.86,1334.21 L160.01,1336.51 L161.12,1338.84 L162.22,1341.18 L163.31,1343.51 L164.39,1345.85 L165.46,1348.19 L166.52,1350.52 L167.56,1352.86 L168.6,1355.2 L169.63,1357.54 L170.65,1359.88 L171.66,1362.22 L172.66,1364.56 L173.65,1366.9 L174.63,1369.24 L175.61,1371.58 L176.57,1373.92 L177.53,1376.26 L178.48,1378.6 L179.42,1380.95 L180.35,1383.29 L181.27,1385.63 L182.19,1387.98 L183.1,1390.32 L184,1392.67 L184.89,1395.02 L185.78,1397.36 L186.66,1399.71 L187.53,1402.06 L188.39,1404.41 L189.25,1406.76 L190.11,1409.11 L190.95,1411.46 L191.79,1413.81 L192.63,1416.16 L193.46,1418.52 L194.28,1420.87 L195.1,1423.23 L195.91,1425.58 L196.72,1427.94 L197.52,1430.29 L198.32,1432.65 L199.11,1435.01 L199.9,1437.37 L200.69,1439.73 L201.47,1442.09 L202.24,1444.45 L203.02,1446.82 L203.78,1449.18 L204.55,1451.54 L205.31,1453.91 L206.07,1456.28 L206.82,1458.64 L207.57,1461.01 L208.32,1463.38 L209.07,1465.75 L209.81,1468.12 L210.55,1470.49 L211.29,1472.87 L212.03,1475.24 L212.77,1477.61 L213.5,1479.99 L214.23,1482.37 L214.96,1484.75 L215.69,1487.13 L216.42,1489.51 L217.15,1491.89 L217.87,1494.27 L218.6,1496.65 L219.32,1499.04 L220.05,1501.42 L220.77,1503.81 L221.49,1506.2 L222.21,1508.59 L222.94,1510.98 L223.66,1513.37 L224.38,1515.76 L225.1,1518.15 L225.82,1520.54 L226.55,1522.93 L227.27,1525.33 L227.99,1527.72 L228.71,1530.11 L229.43,1532.51 L230.16,1534.9 L230.88,1537.3 L231.6,1539.7 L232.33,1542.09 L233.05,1544.49 L233.78,1546.89 L234.5,1549.28 L235.23,1551.68 L235.96,1554.08 L236.69,1556.48 L237.42,1558.87 L238.15,1561.27 L238.88,1563.67 L239.62,1566.06 L240.35,1568.46 L241.09,1570.86 L241.83,1573.26 L242.56,1575.65 L243.31,1578.05 L244.05,1580.44 L244.79,1582.84 L245.54,1585.23 L246.29,1587.63 L247.04,1590.02 L247.79,1592.42 L248.54,1594.81 L249.3,1597.2 L250.06,1599.59 L250.82,1601.98 L251.58,1604.37 L252.34,1606.76 L253.11,1609.15 L253.88,1611.54 L254.65,1613.92 L255.43,1616.31 L256.21,1618.69 L256.99,1621.08 L257.77,1623.46 L258.56,1625.84 L259.35,1628.22 L260.14,1630.6 L260.94,1632.98 L261.74,1635.35 L262.54,1637.73 L263.35,1640.1 L264.16,1642.47 L264.97,1644.84 L265.79,1647.21 L266.61,1649.58 L267.43,1651.94 L268.26,1654.31 L269.09,1656.67 L269.92,1659.03 L270.76,1661.39 L271.61,1663.75 L272.45,1666.1 L273.3,1668.46 L274.16,1670.81 L275.02,1673.16 L275.88,1675.51 L276.75,1677.85 L277.63,1680.2 L278.5,1682.54 L279.39,1684.88 L280.27,1687.21 L281.17,1689.55 L282.06,1691.88 L282.96,1694.21 L283.87,1696.54 L284.78,1698.87 L285.7,1701.19 L286.62,1703.51 L287.55,1705.83 L288.48,1708.14 L289.42,1710.46 L290.37,1712.77 L291.31,1715.07 L292.27,1717.38 L293.23,1719.68 L294.2,1721.98 L295.17,1724.28 L296.15,1726.57 L297.13,1728.86 L298.12,1731.15 L299.12,1733.43 L300.12,1735.71 L301.13,1737.99 L302.14,1740.27 L303.16,1742.54 L304.18,1744.81 L305.22,1747.08 L306.25,1749.34 L307.3,1751.6 L308.35,1753.86 L309.4,1756.12 L310.46,1758.38 L311.53,1760.63 L312.6,1762.88 L313.67,1765.13 L314.76,1767.37 L315.84,1769.62 L316.94,1771.86 L318.04,1774.1 L319.14,1776.34 L320.25,1778.57 L321.36,1780.81 L322.48,1783.04 L323.61,1785.27 L324.74,1787.5 L325.87,1789.73 L327.02,1791.95 L328.16,1794.18 L329.31,1796.4 L330.47,1798.62 L331.63,1800.84 L332.79,1803.06 L333.96,1805.28 L335.14,1807.5 L336.32,1809.71 L337.5,1811.93 L338.69,1814.14 L339.89,1816.35 L341.09,1818.57 L342.29,1820.78 L343.5,1822.99 L344.71,1825.19 L345.93,1827.4 L347.16,1829.6 L348.39,1831.81 L349.63,1834 L350.87,1836.2 L352.12,1838.39 L353.37,1840.58 L354.64,1842.76 L355.91,1844.94 L357.19,1847.12 L358.47,1849.29 L359.77,1851.45 L361.07,1853.61 L362.38,1855.77 L363.69,1857.91 L365.02,1860.06 L366.36,1862.19 L367.7,1864.32 L369.05,1866.44 L370.42,1868.55 L371.79,1870.66 L373.17,1872.76 L374.56,1874.84 L375.97,1876.93 L377.38,1879 L378.8,1881.06 L380.24,1883.11 L381.68,1885.15 L383.14,1887.19 L384.61,1889.21 L386.09,1891.22 L387.58,1893.22 L389.09,1895.21 L390.6,1897.19 L392.13,1899.15 L393.68,1901.11 L395.23,1903.05 L396.8,1904.97 L398.38,1906.89 L399.98,1908.79 L401.59,1910.68 L403.21,1912.55 L404.85,1914.41 L406.5,1916.26 L408.17,1918.09 L409.85,1919.9 L411.55,1921.7 L413.26,1923.49 L414.99,1925.26 L416.74,1927.01 L418.49,1928.74 L420.27,1930.47 L422.06,1932.17 L423.86,1933.86 L425.68,1935.54 L427.51,1937.2 L429.35,1938.84 L431.21,1940.47 L433.08,1942.08 L434.97,1943.68 L436.87,1945.27 L438.78,1946.84 L440.71,1948.39 L442.65,1949.93 L444.6,1951.46 L446.56,1952.97 L448.54,1954.47 L450.53,1955.95 L452.53,1957.42 L454.54,1958.87 L456.56,1960.31 L458.6,1961.74 L460.65,1963.15 L462.7,1964.55 L464.77,1965.94 L466.85,1967.31 L468.94,1968.67 L471.04,1970.02 L473.15,1971.35 L475.27,1972.67 L477.4,1973.98 L479.54,1975.27 L481.69,1976.55 L483.85,1977.82 L486.01,1979.07 L488.19,1980.32 L490.38,1981.55 L492.57,1982.76 L494.77,1983.97 L496.98,1985.16 L499.2,1986.34 L501.43,1987.51 L503.66,1988.67 L505.9,1989.81 L508.15,1990.95 L510.41,1992.07 L512.67,1993.18 L514.94,1994.28 L517.22,1995.36 L519.5,1996.44 L521.79,1997.5 L524.09,1998.55 L526.39,1999.6 L528.7,2000.63 L531.01,2001.65 L533.33,2002.66 L535.66,2003.65 L537.99,2004.64 L540.32,2005.62 L542.66,2006.59 L545,2007.54 L547.35,2008.49 L549.7,2009.42 L552.06,2010.35 L554.42,2011.27 L556.78,2012.17 L559.15,2013.07 L561.52,2013.95 L563.89,2014.83 L566.27,2015.7 L568.65,2016.55 L571.03,2017.4 L573.42,2018.24 L575.8,2019.07 L578.19,2019.89 L580.58,2020.7 L582.98,2021.51 L585.37,2022.3 L587.77,2023.08 L590.17,2023.86 L592.56,2024.63 L594.96,2025.39 L597.36,2026.14 L599.76,2026.88 L602.17,2027.61 L604.57,2028.34 L606.98,2029.06 L609.38,2029.77 L611.79,2030.47 L614.2,2031.16 L616.61,2031.85 L619.02,2032.53 L621.43,2033.2 L623.84,2033.87 L626.25,2034.52 L628.67,2035.17 L631.08,2035.82 L633.5,2036.45 L635.92,2037.08 L638.33,2037.7 L640.75,2038.32 L643.17,2038.93 L645.6,2039.53 L648.02,2040.12 L650.44,2040.71 L652.87,2041.3 L655.29,2041.87 L657.72,2042.44 L660.15,2043.01 L662.58,2043.57 L665,2044.12 L667.44,2044.67 L669.87,2045.21 L672.3,2045.75 L674.73,2046.28 L677.17,2046.8 L679.6,2047.32 L682.04,2047.84 L684.48,2048.35 L686.92,2048.85 L689.36,2049.35 L691.8,2049.85 L694.24,2050.34 L696.68,2050.83 L699.12,2051.31 L701.57,2051.79 L704.01,2052.26 L706.46,2052.73 L708.91,2053.19 L711.35,2053.65 L713.8,2054.11 L716.25,2054.56 L718.7,2055.01 L721.16,2055.45 L723.61,2055.9 L726.06,2056.33 L728.52,2056.76 L730.97,2057.19 L733.43,2057.62 L735.89,2058.04 L738.34,2058.46 L740.8,2058.87 L743.26,2059.28 L745.72,2059.69 L748.18,2060.09 L750.65,2060.49 L753.11,2060.88 L755.57,2061.28 L758.04,2061.66 L760.5,2062.05 L762.97,2062.43 L765.44,2062.81 L767.9,2063.18 L770.37,2063.55 L772.84,2063.92 L775.31,2064.28 L777.78,2064.64 L780.25,2065 L782.73,2065.35 L785.2,2065.7 L787.67,2066.05 L790.15,2066.39 L792.62,2066.73 L795.1,2067.06 L797.57,2067.4 L800.05,2067.73 L802.53,2068.05 L805.01,2068.38 L807.48,2068.7 L809.96,2069.02 L812.44,2069.33 L814.92,2069.64 L817.41,2069.95 L819.89,2070.25 L822.37,2070.56 L824.85,2070.86 L827.34,2071.15 L829.82,2071.44 L832.31,2071.73 L834.79,2072.02 L837.28,2072.31 L839.76,2072.59 L842.25,2072.87 L844.74,2073.14 L847.23,2073.42 L849.72,2073.69 L852.2,2073.95 L854.69,2074.22 L857.18,2074.48 L859.67,2074.74 L862.16,2075 L864.66,2075.25 L867.15,2075.5 L869.64,2075.75 L872.13,2076 L874.63,2076.24 L877.12,2076.48 L879.61,2076.72 L882.11,2076.96 L884.6,2077.19 L887.1,2077.42 L889.59,2077.65 L892.09,2077.88 L894.59,2078.1 L897.08,2078.33 L899.58,2078.55 L902.08,2078.76 L904.58,2078.98 L907.07,2079.19 L909.57,2079.4 L912.07,2079.61 L914.57,2079.82 L917.07,2080.02 L919.57,2080.22 L922.07,2080.42 L924.57,2080.62 L927.07,2080.82 L929.57,2081.01 L932.07,2081.2 L934.57,2081.39 L937.07,2081.58 L939.57,2081.77 L942.08,2081.95 L944.58,2082.13 L947.08,2082.31 L949.58,2082.49 L952.08,2082.67 L954.59,2082.84 L957.09,2083.01 L959.59,2083.19 L962.1,2083.36 L964.6,2083.52 L967.1,2083.69 L969.61,2083.85 L972.11,2084.02 L974.62,2084.18 L977.12,2084.34 L979.62,2084.5 L982.13,2084.65 L984.63,2084.81 L987.14,2084.96 L989.64,2085.11 L992.15,2085.26 L994.65,2085.41 L997.15,2085.56 L999.66,2085.7 L1002.16,2085.85 L1004.67,2085.99 L1007.17,2086.13 L1009.68,2086.28 L1012.18,2086.42 L1014.69,2086.55 L1017.19,2086.69 L1019.7,2086.83 L1022.2,2086.96 L1024.71,2087.09 L1027.21,2087.23 L1029.72,2087.36 L1032.22,2087.49 L1034.72,2087.62 L1037.23,2087.75 L1039.73,2087.87 L1042.24,2088 L1044.74,2088.12 L1047.25,2088.25 L1049.75,2088.37 L1052.25,2088.49 L1054.76,2088.61 L1057.26,2088.73 L1059.76,2088.85 L1062.27,2088.97 L1064.77,2089.09 L1067.27,2089.21 L1069.78,2089.32 L1072.28,2089.44 L1074.78,2089.55 L1077.28,2089.67 L1079.78,2089.78 L1082.29,2089.9 L1084.79,2090.01 L1087.29,2090.12 L1089.79,2090.23 L1092.29,2090.34 L1094.79,2090.45 L1097.29,2090.56 L1099.79,2090.67 L1102.29,2090.78 L1104.79,2090.89 L1107.29,2091 L1109.79,2091.1 L1112.29,2091.21 L1114.78,2091.32 L1117.28,2091.42 L1119.78,2091.53 L1122.28,2091.64 L1124.77,2091.74 L1127.27,2091.85 L1129.76,2091.95 L1132.26,2092.06 L1134.76,2092.16 L1137.25,2092.27 L1139.74,2092.37 L1142.24,2092.48 L1144.73,2092.58 L1147.23,2092.69 L1149.72,2092.79 L1152.21,2092.9 L1154.7,2093 L1157.19,2093.1 L1159.69,2093.21 L1162.18,2093.31 L1164.67,2093.42 L1167.16,2093.52 L1169.64,2093.63 L1172.13,2093.73 L1174.62,2093.84 L1177.11,2093.95 L1179.6,2094.05 L1182.08,2094.16 L1184.57,2094.27 L1187.05,2094.37 L1189.54,2094.48 L1192.02,2094.59 L1194.51,2094.7 L1196.99,2094.8 L1199.47,2094.91 L1201.95,2095.02 L1204.44,2095.13 L1206.92,2095.24 L1209.4,2095.35 L1211.88,2095.47" stroke="#E9BE30" stroke-width="3.2"/>
</g>
<path d="M92.5,1316 H257 M92.5,1476 H366" stroke="#2EB84A" stroke-width="1.6" stroke-dasharray="7.1 4.95" fill="none"/>
<path d="M263.7,1476.5 V1330" stroke="#31698C" stroke-width="2.2"/>
<path d="M253.4,1331.2 L274,1331.2 L263.7,1311 Z" fill="#31698C"/>
<text x="130.1" y="1471.1" font-size="34.5" font-weight="bold" font-style="italic" fill="#000">Peak 2</text>
<text x="192.3" y="1388.9" font-size="34" font-style="italic" fill="#000">Filler effect</text>
<rect x="630.8" y="1704.3" width="565.7" height="309.2" fill="#fff" stroke="#BFBFBF" stroke-width="3.2"/>
<g fill="none" stroke-linecap="round">
<path d="M689.2,1724.1 H778" stroke="#C0140F" stroke-width="3.85"/>
<path d="M689.2,1762.6 H778" stroke="#7030A0" stroke-width="3.85"/>
<path d="M689.2,1801.1 H778" stroke="#FF1A0A" stroke-width="3.85"/>
<path d="M689.2,1840.1 H778" stroke="#E9BE30" stroke-width="3.85"/>
<path d="M689.2,1878.6 H778" stroke="#E9BE30" stroke-width="3.85" stroke-dasharray="6.7 7.3"/>
<path d="M689.2,1917.5 H778" stroke="#FF1A0A" stroke-width="3.85" stroke-dasharray="6.7 7.3"/>
<path d="M689.2,1955.8 H778" stroke="#92DC4C" stroke-width="5.3" stroke-dasharray="15 21"/>
<path d="M689.2,1994.6 H777" stroke="#C4561A" stroke-width="3.85" stroke-dasharray="24 14.3 0.01 14.3"/>
</g>
<g fill="#000" font-size="27.7">
<text x="786.5" y="1733.4">FA</text>
<text x="786.5" y="1771.9">FA-soil</text>
<text x="786.5" y="1810.4">GGBS</text>
<text x="786.5" y="1849.4">GGBS-soil</text>
<text x="786.5" y="1887.9">GGBS-soil (Cumulative heat)</text>
<text x="786.5" y="1926.8">GGBS (Cumulative heat)</text>
<text x="786.5" y="1965.1">FA-soil (Cumulative heat)</text>
<text x="786.5" y="2003.9">FA (Cumulative heat)</text>
</g>
</svg>
</body></html>
